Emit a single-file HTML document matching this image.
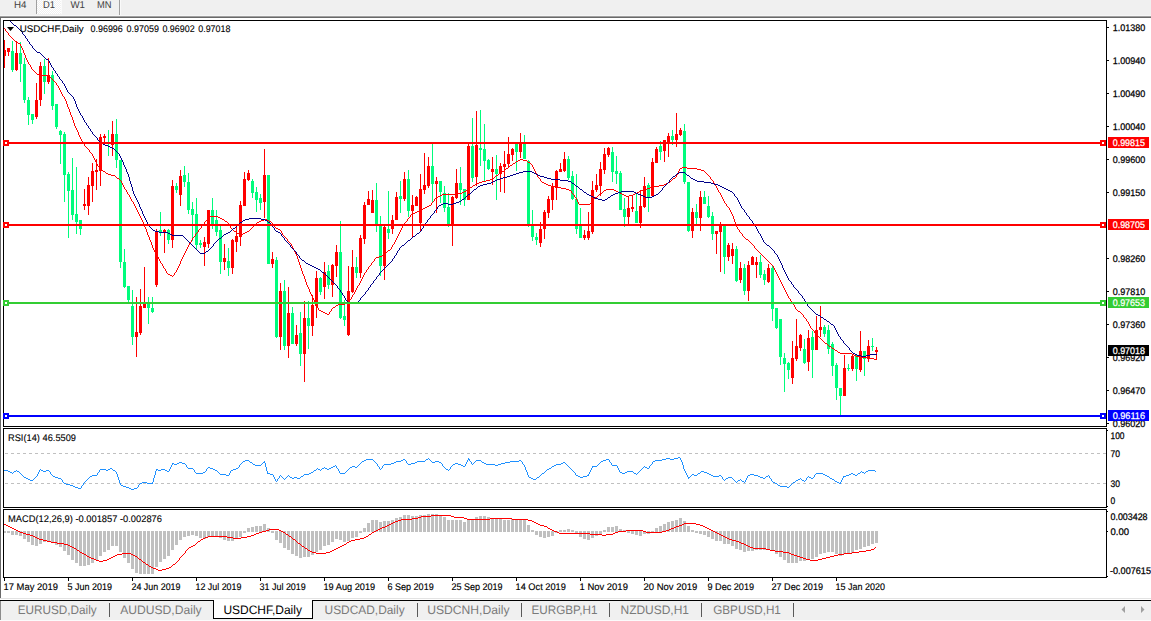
<!DOCTYPE html><html><head><meta charset="utf-8"><title>USDCHF,Daily</title><style>html,body{margin:0;padding:0;background:#fff;overflow:hidden}svg{display:block}</style></head><body><svg width="1151" height="621" viewBox="0 0 1151 621" font-family="Liberation Sans, sans-serif" shape-rendering="crispEdges" text-rendering="geometricPrecision">
<defs><pattern id="chk" width="2" height="2" patternUnits="userSpaceOnUse"><rect width="2" height="2" fill="#f0f0f0"/><rect width="1" height="1" fill="#fff"/><rect x="1" y="1" width="1" height="1" fill="#fff"/></pattern><clipPath id="cm"><rect x="4" y="21" width="1102" height="405"/></clipPath><clipPath id="cr"><rect x="4" y="429" width="1102" height="78"/></clipPath><clipPath id="cd"><rect x="4" y="510" width="1102" height="67"/></clipPath></defs>
<rect x="0" y="0" width="1151" height="621" fill="#fff"/>
<rect x="0" y="0" width="1151" height="15" fill="#f0f0f0"/>
<rect x="37" y="0" width="24" height="14" fill="url(#chk)"/>
<rect x="61" y="0" width="1" height="14" fill="#fafafa"/>
<rect x="36" y="0" width="1" height="14" fill="#a0a0a0"/>
<rect x="119" y="0" width="1" height="16" fill="#a0a0a0"/>
<rect x="120" y="0" width="1" height="15" fill="#fafafa"/>
<rect x="0" y="15" width="1151" height="1" fill="#f6f6f6"/>
<rect x="0" y="16" width="1151" height="1" fill="#a0a0a0"/>
<rect x="0" y="17" width="1151" height="1" fill="#696969"/>
<rect x="0" y="17" width="1" height="581" fill="#696969"/>
<text x="14" y="8" font-size="10" fill="#404040" stroke="#404040" stroke-width="0" textLength="12.5" lengthAdjust="spacingAndGlyphs">H4</text>
<text x="43" y="8" font-size="10" fill="#404040" stroke="#404040" stroke-width="0" textLength="12" lengthAdjust="spacingAndGlyphs">D1</text>
<text x="70.5" y="8" font-size="10" fill="#404040" stroke="#404040" stroke-width="0" textLength="14.5" lengthAdjust="spacingAndGlyphs">W1</text>
<text x="97" y="8" font-size="10" fill="#404040" stroke="#404040" stroke-width="0" textLength="14.5" lengthAdjust="spacingAndGlyphs">MN</text>
<rect x="3" y="20" width="1104" height="1" fill="#000"/>
<rect x="3" y="426" width="1104" height="1" fill="#000"/>
<rect x="3" y="20" width="1" height="407" fill="#000"/>
<rect x="1106" y="20" width="1" height="407" fill="#000"/>
<rect x="3" y="428" width="1104" height="1" fill="#000"/>
<rect x="3" y="507" width="1104" height="1" fill="#000"/>
<rect x="3" y="428" width="1" height="80" fill="#000"/>
<rect x="1106" y="428" width="1" height="80" fill="#000"/>
<rect x="3" y="509" width="1104" height="1" fill="#000"/>
<rect x="3" y="577" width="1104" height="1" fill="#000"/>
<rect x="3" y="509" width="1" height="69" fill="#000"/>
<rect x="1106" y="509" width="1" height="69" fill="#000"/>
<g clip-path="url(#cm)">
<rect x="4" y="40" width="1" height="28" fill="#ff0000"/>
<rect x="3" y="50" width="3" height="6" fill="#ff0000"/>
<rect x="8" y="48" width="1" height="8" fill="#ff0000"/>
<rect x="7" y="48" width="3" height="4" fill="#ff0000"/>
<rect x="12" y="41" width="1" height="31" fill="#00fc7c"/>
<rect x="11" y="51" width="3" height="19" fill="#00fc7c"/>
<rect x="16" y="41" width="1" height="30" fill="#ff0000"/>
<rect x="15" y="53" width="3" height="17" fill="#ff0000"/>
<rect x="20" y="42" width="1" height="40" fill="#00fc7c"/>
<rect x="19" y="53" width="3" height="11" fill="#00fc7c"/>
<rect x="24" y="58" width="1" height="45" fill="#00fc7c"/>
<rect x="23" y="64" width="3" height="36" fill="#00fc7c"/>
<rect x="28" y="97" width="1" height="28" fill="#00fc7c"/>
<rect x="27" y="100" width="3" height="15" fill="#00fc7c"/>
<rect x="32" y="114" width="1" height="10" fill="#00fc7c"/>
<rect x="31" y="114" width="3" height="6" fill="#00fc7c"/>
<rect x="36" y="83" width="1" height="36" fill="#ff0000"/>
<rect x="35" y="100" width="3" height="17" fill="#ff0000"/>
<rect x="40" y="62" width="1" height="44" fill="#ff0000"/>
<rect x="39" y="66" width="3" height="34" fill="#ff0000"/>
<rect x="44" y="59" width="1" height="35" fill="#00fc7c"/>
<rect x="43" y="66" width="3" height="16" fill="#00fc7c"/>
<rect x="48" y="58" width="1" height="26" fill="#ff0000"/>
<rect x="47" y="75" width="3" height="7" fill="#ff0000"/>
<rect x="52" y="71" width="1" height="39" fill="#00fc7c"/>
<rect x="51" y="75" width="3" height="31" fill="#00fc7c"/>
<rect x="56" y="104" width="1" height="25" fill="#00fc7c"/>
<rect x="55" y="104" width="3" height="23" fill="#00fc7c"/>
<rect x="60" y="130" width="1" height="34" fill="#00fc7c"/>
<rect x="59" y="131" width="3" height="4" fill="#00fc7c"/>
<rect x="64" y="132" width="1" height="70" fill="#00fc7c"/>
<rect x="63" y="134" width="3" height="41" fill="#00fc7c"/>
<rect x="68" y="172" width="1" height="66" fill="#00fc7c"/>
<rect x="67" y="174" width="3" height="17" fill="#00fc7c"/>
<rect x="72" y="158" width="1" height="62" fill="#00fc7c"/>
<rect x="71" y="190" width="3" height="25" fill="#00fc7c"/>
<rect x="76" y="167" width="1" height="67" fill="#00fc7c"/>
<rect x="75" y="214" width="3" height="8" fill="#00fc7c"/>
<rect x="80" y="220" width="1" height="15" fill="#00fc7c"/>
<rect x="79" y="220" width="3" height="9" fill="#00fc7c"/>
<rect x="84" y="189" width="1" height="21" fill="#ff0000"/>
<rect x="83" y="204" width="3" height="2" fill="#ff0000"/>
<rect x="88" y="177" width="1" height="38" fill="#ff0000"/>
<rect x="87" y="185" width="3" height="21" fill="#ff0000"/>
<rect x="92" y="163" width="1" height="39" fill="#ff0000"/>
<rect x="91" y="171" width="3" height="15" fill="#ff0000"/>
<rect x="96" y="159" width="1" height="31" fill="#ff0000"/>
<rect x="95" y="170" width="3" height="2" fill="#ff0000"/>
<rect x="100" y="134" width="1" height="52" fill="#ff0000"/>
<rect x="99" y="137" width="3" height="34" fill="#ff0000"/>
<rect x="104" y="134" width="1" height="8" fill="#ff0000"/>
<rect x="103" y="136" width="3" height="2" fill="#ff0000"/>
<rect x="108" y="130" width="1" height="26" fill="#00fc7c"/>
<rect x="107" y="142" width="3" height="1" fill="#00fc7c"/>
<rect x="112" y="121" width="1" height="35" fill="#ff0000"/>
<rect x="111" y="134" width="3" height="11" fill="#ff0000"/>
<rect x="116" y="119" width="1" height="49" fill="#00fc7c"/>
<rect x="115" y="134" width="3" height="26" fill="#00fc7c"/>
<rect x="120" y="160" width="1" height="108" fill="#00fc7c"/>
<rect x="119" y="160" width="3" height="102" fill="#00fc7c"/>
<rect x="124" y="249" width="1" height="39" fill="#00fc7c"/>
<rect x="123" y="262" width="3" height="25" fill="#00fc7c"/>
<rect x="128" y="286" width="1" height="16" fill="#00fc7c"/>
<rect x="127" y="286" width="3" height="14" fill="#00fc7c"/>
<rect x="132" y="290" width="1" height="55" fill="#00fc7c"/>
<rect x="131" y="306" width="3" height="31" fill="#00fc7c"/>
<rect x="136" y="297" width="1" height="60" fill="#ff0000"/>
<rect x="135" y="332" width="3" height="5" fill="#ff0000"/>
<rect x="140" y="289" width="1" height="46" fill="#ff0000"/>
<rect x="139" y="306" width="3" height="27" fill="#ff0000"/>
<rect x="144" y="267" width="1" height="41" fill="#ff0000"/>
<rect x="143" y="304" width="3" height="4" fill="#ff0000"/>
<rect x="148" y="297" width="1" height="27" fill="#00fc7c"/>
<rect x="147" y="304" width="3" height="4" fill="#00fc7c"/>
<rect x="152" y="297" width="1" height="16" fill="#00fc7c"/>
<rect x="151" y="308" width="3" height="4" fill="#00fc7c"/>
<rect x="156" y="229" width="1" height="58" fill="#ff0000"/>
<rect x="155" y="231" width="3" height="54" fill="#ff0000"/>
<rect x="160" y="212" width="1" height="24" fill="#00fc7c"/>
<rect x="159" y="230" width="3" height="3" fill="#00fc7c"/>
<rect x="164" y="229" width="1" height="24" fill="#ff0000"/>
<rect x="163" y="230" width="3" height="3" fill="#ff0000"/>
<rect x="168" y="229" width="1" height="15" fill="#00fc7c"/>
<rect x="167" y="230" width="3" height="10" fill="#00fc7c"/>
<rect x="172" y="180" width="1" height="68" fill="#ff0000"/>
<rect x="171" y="186" width="3" height="54" fill="#ff0000"/>
<rect x="176" y="183" width="1" height="10" fill="#00fc7c"/>
<rect x="175" y="186" width="3" height="4" fill="#00fc7c"/>
<rect x="180" y="170" width="1" height="36" fill="#ff0000"/>
<rect x="179" y="176" width="3" height="19" fill="#ff0000"/>
<rect x="184" y="166" width="1" height="21" fill="#00fc7c"/>
<rect x="183" y="175" width="3" height="7" fill="#00fc7c"/>
<rect x="188" y="173" width="1" height="41" fill="#00fc7c"/>
<rect x="187" y="182" width="3" height="28" fill="#00fc7c"/>
<rect x="192" y="202" width="1" height="39" fill="#00fc7c"/>
<rect x="191" y="209" width="3" height="6" fill="#00fc7c"/>
<rect x="196" y="198" width="1" height="52" fill="#00fc7c"/>
<rect x="195" y="214" width="3" height="31" fill="#00fc7c"/>
<rect x="200" y="240" width="1" height="8" fill="#00fc7c"/>
<rect x="199" y="243" width="3" height="2" fill="#00fc7c"/>
<rect x="204" y="237" width="1" height="29" fill="#ff0000"/>
<rect x="203" y="242" width="3" height="5" fill="#ff0000"/>
<rect x="208" y="210" width="1" height="38" fill="#ff0000"/>
<rect x="207" y="210" width="3" height="34" fill="#ff0000"/>
<rect x="212" y="198" width="1" height="31" fill="#00fc7c"/>
<rect x="211" y="210" width="3" height="14" fill="#00fc7c"/>
<rect x="216" y="210" width="1" height="26" fill="#00fc7c"/>
<rect x="215" y="220" width="3" height="12" fill="#00fc7c"/>
<rect x="220" y="224" width="1" height="50" fill="#00fc7c"/>
<rect x="219" y="230" width="3" height="32" fill="#00fc7c"/>
<rect x="224" y="244" width="1" height="26" fill="#ff0000"/>
<rect x="223" y="258" width="3" height="4" fill="#ff0000"/>
<rect x="228" y="248" width="1" height="28" fill="#00fc7c"/>
<rect x="227" y="261" width="3" height="7" fill="#00fc7c"/>
<rect x="232" y="239" width="1" height="35" fill="#ff0000"/>
<rect x="231" y="240" width="3" height="28" fill="#ff0000"/>
<rect x="236" y="224" width="1" height="28" fill="#ff0000"/>
<rect x="235" y="236" width="3" height="6" fill="#ff0000"/>
<rect x="240" y="201" width="1" height="45" fill="#ff0000"/>
<rect x="239" y="205" width="3" height="32" fill="#ff0000"/>
<rect x="244" y="172" width="1" height="34" fill="#ff0000"/>
<rect x="243" y="179" width="3" height="27" fill="#ff0000"/>
<rect x="248" y="170" width="1" height="11" fill="#ff0000"/>
<rect x="247" y="173" width="3" height="7" fill="#ff0000"/>
<rect x="252" y="179" width="1" height="19" fill="#00fc7c"/>
<rect x="251" y="181" width="3" height="12" fill="#00fc7c"/>
<rect x="256" y="187" width="1" height="25" fill="#00fc7c"/>
<rect x="255" y="192" width="3" height="8" fill="#00fc7c"/>
<rect x="260" y="194" width="1" height="16" fill="#00fc7c"/>
<rect x="259" y="198" width="3" height="5" fill="#00fc7c"/>
<rect x="264" y="149" width="1" height="69" fill="#ff0000"/>
<rect x="263" y="175" width="3" height="27" fill="#ff0000"/>
<rect x="268" y="175" width="1" height="89" fill="#00fc7c"/>
<rect x="267" y="175" width="3" height="89" fill="#00fc7c"/>
<rect x="272" y="252" width="1" height="16" fill="#ff0000"/>
<rect x="271" y="259" width="3" height="5" fill="#ff0000"/>
<rect x="276" y="257" width="1" height="81" fill="#00fc7c"/>
<rect x="275" y="260" width="3" height="77" fill="#00fc7c"/>
<rect x="280" y="283" width="1" height="67" fill="#ff0000"/>
<rect x="279" y="291" width="3" height="46" fill="#ff0000"/>
<rect x="284" y="280" width="1" height="70" fill="#00fc7c"/>
<rect x="283" y="291" width="3" height="55" fill="#00fc7c"/>
<rect x="288" y="287" width="1" height="71" fill="#ff0000"/>
<rect x="287" y="313" width="3" height="33" fill="#ff0000"/>
<rect x="292" y="307" width="1" height="37" fill="#00fc7c"/>
<rect x="291" y="313" width="3" height="31" fill="#00fc7c"/>
<rect x="296" y="325" width="1" height="21" fill="#ff0000"/>
<rect x="295" y="335" width="3" height="9" fill="#ff0000"/>
<rect x="300" y="312" width="1" height="54" fill="#00fc7c"/>
<rect x="299" y="333" width="3" height="21" fill="#00fc7c"/>
<rect x="304" y="301" width="1" height="81" fill="#ff0000"/>
<rect x="303" y="318" width="3" height="36" fill="#ff0000"/>
<rect x="308" y="301" width="1" height="48" fill="#00fc7c"/>
<rect x="307" y="318" width="3" height="8" fill="#00fc7c"/>
<rect x="312" y="295" width="1" height="41" fill="#ff0000"/>
<rect x="311" y="305" width="3" height="21" fill="#ff0000"/>
<rect x="316" y="271" width="1" height="47" fill="#ff0000"/>
<rect x="315" y="278" width="3" height="28" fill="#ff0000"/>
<rect x="320" y="277" width="1" height="18" fill="#00fc7c"/>
<rect x="319" y="278" width="3" height="14" fill="#00fc7c"/>
<rect x="324" y="262" width="1" height="37" fill="#ff0000"/>
<rect x="323" y="272" width="3" height="15" fill="#ff0000"/>
<rect x="328" y="265" width="1" height="24" fill="#00fc7c"/>
<rect x="327" y="271" width="3" height="14" fill="#00fc7c"/>
<rect x="332" y="264" width="1" height="33" fill="#ff0000"/>
<rect x="331" y="265" width="3" height="20" fill="#ff0000"/>
<rect x="336" y="245" width="1" height="32" fill="#ff0000"/>
<rect x="335" y="252" width="3" height="14" fill="#ff0000"/>
<rect x="340" y="221" width="1" height="98" fill="#00fc7c"/>
<rect x="339" y="252" width="3" height="66" fill="#00fc7c"/>
<rect x="344" y="300" width="1" height="26" fill="#00fc7c"/>
<rect x="343" y="316" width="3" height="4" fill="#00fc7c"/>
<rect x="348" y="266" width="1" height="70" fill="#ff0000"/>
<rect x="347" y="291" width="3" height="44" fill="#ff0000"/>
<rect x="352" y="250" width="1" height="43" fill="#ff0000"/>
<rect x="351" y="267" width="3" height="25" fill="#ff0000"/>
<rect x="356" y="257" width="1" height="21" fill="#00fc7c"/>
<rect x="355" y="267" width="3" height="6" fill="#00fc7c"/>
<rect x="360" y="235" width="1" height="43" fill="#ff0000"/>
<rect x="359" y="238" width="3" height="35" fill="#ff0000"/>
<rect x="364" y="202" width="1" height="42" fill="#ff0000"/>
<rect x="363" y="205" width="3" height="34" fill="#ff0000"/>
<rect x="368" y="191" width="1" height="14" fill="#ff0000"/>
<rect x="367" y="199" width="3" height="6" fill="#ff0000"/>
<rect x="372" y="190" width="1" height="23" fill="#ff0000"/>
<rect x="371" y="200" width="3" height="13" fill="#ff0000"/>
<rect x="376" y="183" width="1" height="49" fill="#00fc7c"/>
<rect x="375" y="200" width="3" height="24" fill="#00fc7c"/>
<rect x="380" y="216" width="1" height="60" fill="#00fc7c"/>
<rect x="379" y="225" width="3" height="41" fill="#00fc7c"/>
<rect x="384" y="224" width="1" height="56" fill="#ff0000"/>
<rect x="383" y="227" width="3" height="39" fill="#ff0000"/>
<rect x="388" y="191" width="1" height="48" fill="#00fc7c"/>
<rect x="387" y="229" width="3" height="4" fill="#00fc7c"/>
<rect x="392" y="215" width="1" height="19" fill="#ff0000"/>
<rect x="391" y="220" width="3" height="9" fill="#ff0000"/>
<rect x="396" y="192" width="1" height="28" fill="#ff0000"/>
<rect x="395" y="197" width="3" height="23" fill="#ff0000"/>
<rect x="400" y="181" width="1" height="32" fill="#00fc7c"/>
<rect x="399" y="196" width="3" height="3" fill="#00fc7c"/>
<rect x="404" y="172" width="1" height="29" fill="#ff0000"/>
<rect x="403" y="179" width="3" height="20" fill="#ff0000"/>
<rect x="408" y="170" width="1" height="47" fill="#00fc7c"/>
<rect x="407" y="179" width="3" height="32" fill="#00fc7c"/>
<rect x="412" y="195" width="1" height="42" fill="#ff0000"/>
<rect x="411" y="205" width="3" height="6" fill="#ff0000"/>
<rect x="416" y="196" width="1" height="10" fill="#ff0000"/>
<rect x="415" y="197" width="3" height="9" fill="#ff0000"/>
<rect x="420" y="174" width="1" height="57" fill="#ff0000"/>
<rect x="419" y="189" width="3" height="34" fill="#ff0000"/>
<rect x="424" y="153" width="1" height="41" fill="#ff0000"/>
<rect x="423" y="185" width="3" height="5" fill="#ff0000"/>
<rect x="428" y="157" width="1" height="31" fill="#ff0000"/>
<rect x="427" y="166" width="3" height="20" fill="#ff0000"/>
<rect x="432" y="144" width="1" height="59" fill="#00fc7c"/>
<rect x="431" y="166" width="3" height="18" fill="#00fc7c"/>
<rect x="436" y="177" width="1" height="36" fill="#ff0000"/>
<rect x="435" y="181" width="3" height="3" fill="#ff0000"/>
<rect x="440" y="181" width="1" height="22" fill="#00fc7c"/>
<rect x="439" y="181" width="3" height="11" fill="#00fc7c"/>
<rect x="444" y="186" width="1" height="26" fill="#00fc7c"/>
<rect x="443" y="193" width="3" height="15" fill="#00fc7c"/>
<rect x="448" y="193" width="1" height="34" fill="#00fc7c"/>
<rect x="447" y="207" width="3" height="17" fill="#00fc7c"/>
<rect x="452" y="196" width="1" height="50" fill="#ff0000"/>
<rect x="451" y="197" width="3" height="27" fill="#ff0000"/>
<rect x="456" y="169" width="1" height="30" fill="#ff0000"/>
<rect x="455" y="183" width="3" height="15" fill="#ff0000"/>
<rect x="460" y="167" width="1" height="38" fill="#00fc7c"/>
<rect x="459" y="183" width="3" height="7" fill="#00fc7c"/>
<rect x="464" y="189" width="1" height="17" fill="#00fc7c"/>
<rect x="463" y="189" width="3" height="11" fill="#00fc7c"/>
<rect x="468" y="144" width="1" height="56" fill="#ff0000"/>
<rect x="467" y="146" width="3" height="54" fill="#ff0000"/>
<rect x="472" y="118" width="1" height="64" fill="#00fc7c"/>
<rect x="471" y="146" width="3" height="32" fill="#00fc7c"/>
<rect x="476" y="111" width="1" height="75" fill="#ff0000"/>
<rect x="475" y="145" width="3" height="32" fill="#ff0000"/>
<rect x="480" y="110" width="1" height="56" fill="#00fc7c"/>
<rect x="479" y="148" width="3" height="2" fill="#00fc7c"/>
<rect x="484" y="124" width="1" height="58" fill="#00fc7c"/>
<rect x="483" y="149" width="3" height="12" fill="#00fc7c"/>
<rect x="488" y="159" width="1" height="11" fill="#00fc7c"/>
<rect x="487" y="160" width="3" height="9" fill="#00fc7c"/>
<rect x="492" y="157" width="1" height="28" fill="#ff0000"/>
<rect x="491" y="169" width="3" height="3" fill="#ff0000"/>
<rect x="496" y="155" width="1" height="45" fill="#00fc7c"/>
<rect x="495" y="169" width="3" height="5" fill="#00fc7c"/>
<rect x="500" y="163" width="1" height="29" fill="#ff0000"/>
<rect x="499" y="166" width="3" height="8" fill="#ff0000"/>
<rect x="504" y="151" width="1" height="42" fill="#ff0000"/>
<rect x="503" y="164" width="3" height="3" fill="#ff0000"/>
<rect x="508" y="137" width="1" height="30" fill="#ff0000"/>
<rect x="507" y="154" width="3" height="10" fill="#ff0000"/>
<rect x="512" y="148" width="1" height="13" fill="#ff0000"/>
<rect x="511" y="149" width="3" height="6" fill="#ff0000"/>
<rect x="516" y="144" width="1" height="27" fill="#00fc7c"/>
<rect x="515" y="144" width="3" height="8" fill="#00fc7c"/>
<rect x="520" y="133" width="1" height="25" fill="#ff0000"/>
<rect x="519" y="144" width="3" height="8" fill="#ff0000"/>
<rect x="524" y="135" width="1" height="24" fill="#00fc7c"/>
<rect x="523" y="144" width="3" height="15" fill="#00fc7c"/>
<rect x="528" y="160" width="1" height="67" fill="#00fc7c"/>
<rect x="527" y="161" width="3" height="65" fill="#00fc7c"/>
<rect x="532" y="210" width="1" height="31" fill="#00fc7c"/>
<rect x="531" y="225" width="3" height="12" fill="#00fc7c"/>
<rect x="536" y="233" width="1" height="12" fill="#00fc7c"/>
<rect x="535" y="237" width="3" height="3" fill="#00fc7c"/>
<rect x="540" y="222" width="1" height="25" fill="#ff0000"/>
<rect x="539" y="229" width="3" height="14" fill="#ff0000"/>
<rect x="544" y="210" width="1" height="29" fill="#ff0000"/>
<rect x="543" y="212" width="3" height="17" fill="#ff0000"/>
<rect x="548" y="196" width="1" height="22" fill="#ff0000"/>
<rect x="547" y="199" width="3" height="14" fill="#ff0000"/>
<rect x="552" y="183" width="1" height="27" fill="#ff0000"/>
<rect x="551" y="187" width="3" height="13" fill="#ff0000"/>
<rect x="556" y="170" width="1" height="30" fill="#ff0000"/>
<rect x="555" y="171" width="3" height="17" fill="#ff0000"/>
<rect x="560" y="163" width="1" height="9" fill="#ff0000"/>
<rect x="559" y="169" width="3" height="3" fill="#ff0000"/>
<rect x="564" y="152" width="1" height="20" fill="#ff0000"/>
<rect x="563" y="159" width="3" height="12" fill="#ff0000"/>
<rect x="568" y="156" width="1" height="24" fill="#00fc7c"/>
<rect x="567" y="159" width="3" height="19" fill="#00fc7c"/>
<rect x="572" y="171" width="1" height="29" fill="#00fc7c"/>
<rect x="571" y="176" width="3" height="23" fill="#00fc7c"/>
<rect x="576" y="174" width="1" height="60" fill="#00fc7c"/>
<rect x="575" y="199" width="3" height="30" fill="#00fc7c"/>
<rect x="580" y="208" width="1" height="30" fill="#00fc7c"/>
<rect x="579" y="226" width="3" height="12" fill="#00fc7c"/>
<rect x="584" y="230" width="1" height="10" fill="#ff0000"/>
<rect x="583" y="235" width="3" height="3" fill="#ff0000"/>
<rect x="588" y="212" width="1" height="28" fill="#ff0000"/>
<rect x="587" y="231" width="3" height="7" fill="#ff0000"/>
<rect x="592" y="181" width="1" height="53" fill="#ff0000"/>
<rect x="591" y="190" width="3" height="42" fill="#ff0000"/>
<rect x="596" y="174" width="1" height="18" fill="#ff0000"/>
<rect x="595" y="185" width="3" height="5" fill="#ff0000"/>
<rect x="600" y="162" width="1" height="34" fill="#ff0000"/>
<rect x="599" y="169" width="3" height="17" fill="#ff0000"/>
<rect x="604" y="148" width="1" height="26" fill="#ff0000"/>
<rect x="603" y="154" width="3" height="16" fill="#ff0000"/>
<rect x="608" y="147" width="1" height="10" fill="#ff0000"/>
<rect x="607" y="148" width="3" height="7" fill="#ff0000"/>
<rect x="612" y="147" width="1" height="35" fill="#00fc7c"/>
<rect x="611" y="152" width="3" height="20" fill="#00fc7c"/>
<rect x="616" y="156" width="1" height="28" fill="#00fc7c"/>
<rect x="615" y="171" width="3" height="3" fill="#00fc7c"/>
<rect x="620" y="171" width="1" height="39" fill="#00fc7c"/>
<rect x="619" y="173" width="3" height="37" fill="#00fc7c"/>
<rect x="624" y="198" width="1" height="29" fill="#00fc7c"/>
<rect x="623" y="209" width="3" height="8" fill="#00fc7c"/>
<rect x="628" y="197" width="1" height="28" fill="#ff0000"/>
<rect x="627" y="208" width="3" height="9" fill="#ff0000"/>
<rect x="632" y="196" width="1" height="16" fill="#ff0000"/>
<rect x="631" y="207" width="3" height="2" fill="#ff0000"/>
<rect x="636" y="194" width="1" height="29" fill="#00fc7c"/>
<rect x="635" y="211" width="3" height="12" fill="#00fc7c"/>
<rect x="640" y="190" width="1" height="38" fill="#ff0000"/>
<rect x="639" y="206" width="3" height="17" fill="#ff0000"/>
<rect x="644" y="177" width="1" height="31" fill="#ff0000"/>
<rect x="643" y="186" width="3" height="21" fill="#ff0000"/>
<rect x="648" y="183" width="1" height="29" fill="#00fc7c"/>
<rect x="647" y="185" width="3" height="12" fill="#00fc7c"/>
<rect x="652" y="158" width="1" height="38" fill="#ff0000"/>
<rect x="651" y="162" width="3" height="34" fill="#ff0000"/>
<rect x="656" y="147" width="1" height="16" fill="#ff0000"/>
<rect x="655" y="149" width="3" height="14" fill="#ff0000"/>
<rect x="660" y="141" width="1" height="19" fill="#00fc7c"/>
<rect x="659" y="146" width="3" height="6" fill="#00fc7c"/>
<rect x="664" y="140" width="1" height="22" fill="#ff0000"/>
<rect x="663" y="140" width="3" height="11" fill="#ff0000"/>
<rect x="668" y="133" width="1" height="24" fill="#ff0000"/>
<rect x="667" y="136" width="3" height="7" fill="#ff0000"/>
<rect x="672" y="130" width="1" height="15" fill="#00fc7c"/>
<rect x="671" y="136" width="3" height="4" fill="#00fc7c"/>
<rect x="676" y="113" width="1" height="34" fill="#ff0000"/>
<rect x="675" y="134" width="3" height="6" fill="#ff0000"/>
<rect x="680" y="128" width="1" height="8" fill="#ff0000"/>
<rect x="679" y="130" width="3" height="5" fill="#ff0000"/>
<rect x="684" y="124" width="1" height="60" fill="#00fc7c"/>
<rect x="683" y="131" width="3" height="51" fill="#00fc7c"/>
<rect x="688" y="182" width="1" height="50" fill="#00fc7c"/>
<rect x="687" y="182" width="3" height="49" fill="#00fc7c"/>
<rect x="692" y="208" width="1" height="30" fill="#ff0000"/>
<rect x="691" y="212" width="3" height="19" fill="#ff0000"/>
<rect x="696" y="204" width="1" height="20" fill="#00fc7c"/>
<rect x="695" y="212" width="3" height="6" fill="#00fc7c"/>
<rect x="700" y="191" width="1" height="40" fill="#ff0000"/>
<rect x="699" y="197" width="3" height="21" fill="#ff0000"/>
<rect x="704" y="191" width="1" height="13" fill="#00fc7c"/>
<rect x="703" y="197" width="3" height="7" fill="#00fc7c"/>
<rect x="708" y="196" width="1" height="22" fill="#00fc7c"/>
<rect x="707" y="206" width="3" height="11" fill="#00fc7c"/>
<rect x="712" y="212" width="1" height="28" fill="#00fc7c"/>
<rect x="711" y="216" width="3" height="18" fill="#00fc7c"/>
<rect x="716" y="231" width="1" height="23" fill="#ff0000"/>
<rect x="715" y="231" width="3" height="3" fill="#ff0000"/>
<rect x="720" y="222" width="1" height="50" fill="#ff0000"/>
<rect x="719" y="226" width="3" height="6" fill="#ff0000"/>
<rect x="724" y="226" width="1" height="48" fill="#00fc7c"/>
<rect x="723" y="226" width="3" height="31" fill="#00fc7c"/>
<rect x="728" y="243" width="1" height="18" fill="#ff0000"/>
<rect x="727" y="245" width="3" height="12" fill="#ff0000"/>
<rect x="732" y="243" width="1" height="21" fill="#ff0000"/>
<rect x="731" y="249" width="3" height="7" fill="#ff0000"/>
<rect x="736" y="246" width="1" height="36" fill="#00fc7c"/>
<rect x="735" y="249" width="3" height="32" fill="#00fc7c"/>
<rect x="740" y="262" width="1" height="21" fill="#ff0000"/>
<rect x="739" y="268" width="3" height="12" fill="#ff0000"/>
<rect x="744" y="264" width="1" height="31" fill="#00fc7c"/>
<rect x="743" y="268" width="3" height="23" fill="#00fc7c"/>
<rect x="748" y="261" width="1" height="40" fill="#ff0000"/>
<rect x="747" y="265" width="3" height="26" fill="#ff0000"/>
<rect x="752" y="256" width="1" height="9" fill="#ff0000"/>
<rect x="751" y="257" width="3" height="8" fill="#ff0000"/>
<rect x="756" y="257" width="1" height="21" fill="#ff0000"/>
<rect x="755" y="262" width="3" height="3" fill="#ff0000"/>
<rect x="760" y="255" width="1" height="23" fill="#00fc7c"/>
<rect x="759" y="262" width="3" height="13" fill="#00fc7c"/>
<rect x="764" y="270" width="1" height="15" fill="#00fc7c"/>
<rect x="763" y="274" width="3" height="6" fill="#00fc7c"/>
<rect x="768" y="264" width="1" height="19" fill="#ff0000"/>
<rect x="767" y="268" width="3" height="14" fill="#ff0000"/>
<rect x="772" y="265" width="1" height="56" fill="#00fc7c"/>
<rect x="771" y="268" width="3" height="41" fill="#00fc7c"/>
<rect x="776" y="308" width="1" height="21" fill="#00fc7c"/>
<rect x="775" y="308" width="3" height="20" fill="#00fc7c"/>
<rect x="780" y="319" width="1" height="46" fill="#00fc7c"/>
<rect x="779" y="319" width="3" height="38" fill="#00fc7c"/>
<rect x="784" y="353" width="1" height="39" fill="#00fc7c"/>
<rect x="783" y="358" width="3" height="6" fill="#00fc7c"/>
<rect x="788" y="362" width="1" height="17" fill="#00fc7c"/>
<rect x="787" y="363" width="3" height="7" fill="#00fc7c"/>
<rect x="792" y="341" width="1" height="43" fill="#ff0000"/>
<rect x="791" y="358" width="3" height="20" fill="#ff0000"/>
<rect x="796" y="319" width="1" height="42" fill="#ff0000"/>
<rect x="795" y="346" width="3" height="13" fill="#ff0000"/>
<rect x="800" y="334" width="1" height="17" fill="#ff0000"/>
<rect x="799" y="335" width="3" height="13" fill="#ff0000"/>
<rect x="804" y="339" width="1" height="25" fill="#00fc7c"/>
<rect x="803" y="349" width="3" height="14" fill="#00fc7c"/>
<rect x="808" y="330" width="1" height="41" fill="#ff0000"/>
<rect x="807" y="338" width="3" height="24" fill="#ff0000"/>
<rect x="812" y="331" width="1" height="47" fill="#00fc7c"/>
<rect x="811" y="337" width="3" height="13" fill="#00fc7c"/>
<rect x="816" y="316" width="1" height="34" fill="#ff0000"/>
<rect x="815" y="330" width="3" height="20" fill="#ff0000"/>
<rect x="820" y="306" width="1" height="31" fill="#ff0000"/>
<rect x="819" y="327" width="3" height="3" fill="#ff0000"/>
<rect x="824" y="325" width="1" height="12" fill="#00fc7c"/>
<rect x="823" y="327" width="3" height="7" fill="#00fc7c"/>
<rect x="828" y="325" width="1" height="29" fill="#00fc7c"/>
<rect x="827" y="330" width="3" height="19" fill="#00fc7c"/>
<rect x="832" y="342" width="1" height="34" fill="#00fc7c"/>
<rect x="831" y="344" width="3" height="22" fill="#00fc7c"/>
<rect x="836" y="363" width="1" height="37" fill="#00fc7c"/>
<rect x="835" y="365" width="3" height="23" fill="#00fc7c"/>
<rect x="840" y="388" width="1" height="27" fill="#00fc7c"/>
<rect x="839" y="388" width="3" height="8" fill="#00fc7c"/>
<rect x="844" y="355" width="1" height="41" fill="#ff0000"/>
<rect x="843" y="368" width="3" height="28" fill="#ff0000"/>
<rect x="848" y="364" width="1" height="7" fill="#00fc7c"/>
<rect x="847" y="368" width="3" height="1" fill="#00fc7c"/>
<rect x="852" y="354" width="1" height="17" fill="#ff0000"/>
<rect x="851" y="356" width="3" height="13" fill="#ff0000"/>
<rect x="856" y="355" width="1" height="26" fill="#00fc7c"/>
<rect x="855" y="356" width="3" height="13" fill="#00fc7c"/>
<rect x="860" y="331" width="1" height="41" fill="#ff0000"/>
<rect x="859" y="351" width="3" height="19" fill="#ff0000"/>
<rect x="864" y="351" width="1" height="25" fill="#00fc7c"/>
<rect x="863" y="351" width="3" height="8" fill="#00fc7c"/>
<rect x="868" y="340" width="1" height="22" fill="#ff0000"/>
<rect x="867" y="346" width="3" height="13" fill="#ff0000"/>
<rect x="872" y="338" width="1" height="13" fill="#00fc7c"/>
<rect x="871" y="346" width="3" height="1" fill="#00fc7c"/>
<rect x="876" y="347" width="1" height="12" fill="#ff0000"/>
<rect x="875" y="350" width="3" height="2" fill="#ff0000"/>
<path d="M15 41h2v1h-2zM18 43h2v1h-2zM37 74h2v1h-2zM39 75h9v1h-9zM48 76h2v1h-2zM520 159h3v1h-3zM518 160h2v1h-2zM523 160h4v1h-4zM516 161h2v1h-2zM528 162h2v1h-2zM513 163h2v1h-2zM510 165h2v1h-2zM682 167h5v1h-5zM506 168h2v1h-2zM680 168h2v1h-2zM687 168h10v1h-10zM697 169h4v1h-4zM701 170h3v1h-3zM103 171h2v1h-2zM502 171h2v1h-2zM106 173h2v1h-2zM499 173h2v1h-2zM108 174h3v1h-3zM111 175h4v1h-4zM496 175h2v1h-2zM117 178h2v1h-2zM492 178h2v1h-2zM673 178h2v1h-2zM490 179h2v1h-2zM486 180h4v1h-4zM482 181h4v1h-4zM479 182h3v1h-3zM542 182h2v1h-2zM668 182h2v1h-2zM477 183h2v1h-2zM544 183h2v1h-2zM666 183h2v1h-2zM475 184h2v1h-2zM546 184h2v1h-2zM664 184h2v1h-2zM473 185h2v1h-2zM548 185h3v1h-3zM659 185h5v1h-5zM551 186h4v1h-4zM654 186h5v1h-5zM470 187h2v1h-2zM555 187h6v1h-6zM650 187h4v1h-4zM561 188h5v1h-5zM647 188h3v1h-3zM566 189h3v1h-3zM606 189h8v1h-8zM643 189h4v1h-4zM466 190h2v1h-2zM569 190h2v1h-2zM604 190h2v1h-2zM614 190h2v1h-2zM641 190h2v1h-2zM464 191h2v1h-2zM616 191h2v1h-2zM639 191h2v1h-2zM462 192h2v1h-2zM618 192h2v1h-2zM637 192h2v1h-2zM457 193h5v1h-5zM600 193h2v1h-2zM620 193h2v1h-2zM635 193h2v1h-2zM442 194h15v1h-15zM622 194h2v1h-2zM633 194h2v1h-2zM440 195h2v1h-2zM624 195h2v1h-2zM629 195h4v1h-4zM438 196h2v1h-2zM626 196h3v1h-3zM436 197h2v1h-2zM595 197h2v1h-2zM579 204h11v1h-11zM429 205h2v1h-2zM427 206h2v1h-2zM425 207h2v1h-2zM423 208h2v1h-2zM421 209h2v1h-2zM419 210h2v1h-2zM417 211h2v1h-2zM415 212h2v1h-2zM413 213h2v1h-2zM411 214h2v1h-2zM210 216h8v1h-8zM218 217h2v1h-2zM220 218h2v1h-2zM222 219h2v1h-2zM264 219h3v1h-3zM261 220h3v1h-3zM267 220h2v1h-2zM225 221h2v1h-2zM259 221h2v1h-2zM269 221h2v1h-2zM257 222h2v1h-2zM276 228h2v1h-2zM278 229h2v1h-2zM234 231h2v1h-2zM247 231h2v1h-2zM245 232h2v1h-2zM237 233h3v1h-3zM243 233h2v1h-2zM240 234h3v1h-3zM746 239h2v1h-2zM388 250h2v1h-2zM383 254h2v1h-2zM379 256h3v1h-3zM376 257h3v1h-3zM168 274h2v1h-2zM170 275h2v1h-2zM347 302h2v1h-2zM345 303h2v1h-2zM338 304h7v1h-7zM336 305h2v1h-2zM333 307h2v1h-2zM319 310h2v1h-2zM321 311h2v1h-2zM798 311h2v1h-2zM323 312h2v1h-2zM325 313h2v1h-2zM327 314h2v1h-2zM825 343h2v1h-2zM829 346h2v1h-2zM832 348h2v1h-2zM835 350h2v1h-2zM838 352h2v1h-2zM840 353h12v1h-12zM852 354h2v1h-2zM854 355h2v1h-2zM856 356h5v1h-5zM861 357h7v1h-7zM868 358h6v1h-6zM874 359h3v1h-3zM4 28h1v1h-1zM5 29h1v2h-1zM6 31h1v1h-1zM7 32h1v1h-1zM8 33h1v2h-1zM9 35h1v1h-1zM10 36h1v1h-1zM11 37h1v1h-1zM12 38h1v1h-1zM13 39h1v1h-1zM14 40h1v1h-1zM17 42h1v1h-1zM20 44h1v2h-1zM21 46h1v2h-1zM22 48h1v2h-1zM23 50h1v3h-1zM24 53h1v2h-1zM25 55h1v3h-1zM26 58h1v2h-1zM27 60h1v2h-1zM28 62h1v2h-1zM29 64h1v1h-1zM30 65h1v2h-1zM31 67h1v2h-1zM32 69h1v1h-1zM33 70h1v1h-1zM34 71h1v1h-1zM35 72h1v1h-1zM36 73h1v1h-1zM50 77h1v1h-1zM51 78h1v1h-1zM52 79h1v1h-1zM53 80h1v1h-1zM54 81h1v1h-1zM55 82h1v1h-1zM56 83h1v2h-1zM57 85h1v1h-1zM58 86h1v2h-1zM59 88h1v2h-1zM60 90h1v2h-1zM61 92h1v2h-1zM62 94h1v2h-1zM63 96h1v1h-1zM64 97h1v2h-1zM65 99h1v2h-1zM66 101h1v3h-1zM67 104h1v3h-1zM68 107h1v2h-1zM69 109h1v3h-1zM70 112h1v3h-1zM71 115h1v2h-1zM72 117h1v3h-1zM73 120h1v3h-1zM74 123h1v3h-1zM75 126h1v2h-1zM76 128h1v2h-1zM77 130h1v2h-1zM78 132h1v3h-1zM79 135h1v2h-1zM80 137h1v2h-1zM81 139h1v2h-1zM82 141h1v2h-1zM83 143h1v1h-1zM84 144h1v2h-1zM85 146h1v1h-1zM86 147h1v1h-1zM87 148h1v1h-1zM88 149h1v1h-1zM89 150h1v2h-1zM90 152h1v1h-1zM91 153h1v1h-1zM92 154h1v2h-1zM93 156h1v2h-1zM94 158h1v2h-1zM95 160h1v2h-1zM96 162h1v2h-1zM97 164h1v2h-1zM98 166h1v1h-1zM99 167h1v1h-1zM100 168h1v1h-1zM101 169h1v1h-1zM102 170h1v1h-1zM105 172h1v1h-1zM115 176h1v1h-1zM116 177h1v1h-1zM119 179h1v1h-1zM120 180h1v1h-1zM121 181h1v2h-1zM122 183h1v2h-1zM123 185h1v2h-1zM124 187h1v2h-1zM125 189h1v1h-1zM126 190h1v2h-1zM127 192h1v2h-1zM128 194h1v1h-1zM129 195h1v2h-1zM130 197h1v2h-1zM131 199h1v2h-1zM132 201h1v1h-1zM133 202h1v2h-1zM134 204h1v2h-1zM135 206h1v2h-1zM136 208h1v2h-1zM137 210h1v2h-1zM138 212h1v2h-1zM139 214h1v2h-1zM140 216h1v2h-1zM141 218h1v2h-1zM142 220h1v2h-1zM143 222h1v2h-1zM144 224h1v3h-1zM145 227h1v2h-1zM146 229h1v3h-1zM147 232h1v3h-1zM148 235h1v2h-1zM149 237h1v3h-1zM150 240h1v2h-1zM151 242h1v3h-1zM152 245h1v3h-1zM153 248h1v2h-1zM154 250h1v2h-1zM155 252h1v2h-1zM156 254h1v2h-1zM157 256h1v1h-1zM158 257h1v2h-1zM159 259h1v2h-1zM160 261h1v2h-1zM161 263h1v1h-1zM162 264h1v2h-1zM163 266h1v2h-1zM164 268h1v1h-1zM165 269h1v2h-1zM166 271h1v2h-1zM167 273h1v1h-1zM172 276h1v1h-1zM173 275h1v1h-1zM174 273h1v2h-1zM175 272h1v1h-1zM176 270h1v2h-1zM177 268h1v2h-1zM178 266h1v2h-1zM179 264h1v2h-1zM180 261h1v3h-1zM181 259h1v2h-1zM182 257h1v2h-1zM183 255h1v2h-1zM184 253h1v2h-1zM185 251h1v2h-1zM186 249h1v2h-1zM187 247h1v2h-1zM188 245h1v2h-1zM189 243h1v2h-1zM190 242h1v1h-1zM191 240h1v2h-1zM192 238h1v2h-1zM193 237h1v1h-1zM194 236h1v1h-1zM195 234h1v2h-1zM196 233h1v1h-1zM197 232h1v1h-1zM198 230h1v2h-1zM199 229h1v1h-1zM200 228h1v1h-1zM201 226h1v2h-1zM202 225h1v1h-1zM203 224h1v1h-1zM204 222h1v2h-1zM205 221h1v1h-1zM206 220h1v1h-1zM207 219h1v1h-1zM208 218h1v1h-1zM209 217h1v1h-1zM224 220h1v1h-1zM227 222h1v1h-1zM228 223h1v2h-1zM229 225h1v1h-1zM230 226h1v2h-1zM231 228h1v1h-1zM232 229h1v1h-1zM233 230h1v1h-1zM236 232h1v1h-1zM249 230h1v1h-1zM250 229h1v1h-1zM251 228h1v1h-1zM252 227h1v1h-1zM253 226h1v1h-1zM254 225h1v1h-1zM255 224h1v1h-1zM256 223h1v1h-1zM271 222h1v1h-1zM272 223h1v1h-1zM273 224h1v2h-1zM274 226h1v1h-1zM275 227h1v1h-1zM280 230h1v1h-1zM281 231h1v2h-1zM282 233h1v2h-1zM283 235h1v1h-1zM284 236h1v1h-1zM285 237h1v1h-1zM286 238h1v1h-1zM287 239h1v2h-1zM288 241h1v1h-1zM289 242h1v1h-1zM290 243h1v1h-1zM291 244h1v2h-1zM292 246h1v2h-1zM293 248h1v2h-1zM294 250h1v2h-1zM295 252h1v2h-1zM296 254h1v2h-1zM297 256h1v3h-1zM298 259h1v3h-1zM299 262h1v3h-1zM300 265h1v3h-1zM301 268h1v3h-1zM302 271h1v3h-1zM303 274h1v2h-1zM304 276h1v3h-1zM305 279h1v3h-1zM306 282h1v3h-1zM307 285h1v2h-1zM308 287h1v2h-1zM309 289h1v3h-1zM310 292h1v2h-1zM311 294h1v2h-1zM312 296h1v2h-1zM313 298h1v2h-1zM314 300h1v2h-1zM315 302h1v2h-1zM316 304h1v2h-1zM317 306h1v2h-1zM318 308h1v2h-1zM329 312h1v2h-1zM330 311h1v1h-1zM331 309h1v2h-1zM332 308h1v1h-1zM335 306h1v1h-1zM349 300h1v2h-1zM350 299h1v1h-1zM351 297h1v2h-1zM352 295h1v2h-1zM353 294h1v1h-1zM354 292h1v2h-1zM355 290h1v2h-1zM356 288h1v2h-1zM357 286h1v2h-1zM358 285h1v1h-1zM359 283h1v2h-1zM360 281h1v2h-1zM361 279h1v2h-1zM362 277h1v2h-1zM363 275h1v2h-1zM364 273h1v2h-1zM365 272h1v1h-1zM366 270h1v2h-1zM367 269h1v1h-1zM368 267h1v2h-1zM369 266h1v1h-1zM370 265h1v1h-1zM371 263h1v2h-1zM372 262h1v1h-1zM373 261h1v1h-1zM374 259h1v2h-1zM375 258h1v1h-1zM382 255h1v1h-1zM385 253h1v1h-1zM386 252h1v1h-1zM387 251h1v1h-1zM390 249h1v1h-1zM391 247h1v2h-1zM392 245h1v2h-1zM393 244h1v1h-1zM394 242h1v2h-1zM395 240h1v2h-1zM396 238h1v2h-1zM397 236h1v2h-1zM398 234h1v2h-1zM399 232h1v2h-1zM400 230h1v2h-1zM401 228h1v2h-1zM402 226h1v2h-1zM403 225h1v1h-1zM404 223h1v2h-1zM405 222h1v1h-1zM406 221h1v1h-1zM407 219h1v2h-1zM408 218h1v1h-1zM409 217h1v1h-1zM410 215h1v2h-1zM431 203h1v2h-1zM432 202h1v1h-1zM433 201h1v1h-1zM434 199h1v2h-1zM435 198h1v1h-1zM468 189h1v1h-1zM469 188h1v1h-1zM472 186h1v1h-1zM494 177h1v1h-1zM495 176h1v1h-1zM498 174h1v1h-1zM501 172h1v1h-1zM504 170h1v1h-1zM505 169h1v1h-1zM508 167h1v1h-1zM509 166h1v1h-1zM512 164h1v1h-1zM515 162h1v1h-1zM527 161h1v1h-1zM530 163h1v1h-1zM531 164h1v1h-1zM532 165h1v2h-1zM533 167h1v2h-1zM534 169h1v2h-1zM535 171h1v2h-1zM536 173h1v2h-1zM537 175h1v2h-1zM538 177h1v1h-1zM539 178h1v1h-1zM540 179h1v2h-1zM541 181h1v1h-1zM571 191h1v2h-1zM572 193h1v1h-1zM573 194h1v1h-1zM574 195h1v2h-1zM575 197h1v1h-1zM576 198h1v2h-1zM577 200h1v2h-1zM578 202h1v2h-1zM590 203h1v1h-1zM591 201h1v2h-1zM592 200h1v1h-1zM593 199h1v1h-1zM594 198h1v1h-1zM597 196h1v1h-1zM598 195h1v1h-1zM599 194h1v1h-1zM602 192h1v1h-1zM603 191h1v1h-1zM670 181h1v1h-1zM671 180h1v1h-1zM672 179h1v1h-1zM675 177h1v1h-1zM676 175h1v2h-1zM677 173h1v2h-1zM678 171h1v2h-1zM679 169h1v2h-1zM704 171h1v1h-1zM705 172h1v1h-1zM706 173h1v1h-1zM707 174h1v1h-1zM708 175h1v1h-1zM709 176h1v1h-1zM710 177h1v2h-1zM711 179h1v1h-1zM712 180h1v1h-1zM713 181h1v2h-1zM714 183h1v1h-1zM715 184h1v2h-1zM716 186h1v2h-1zM717 188h1v2h-1zM718 190h1v2h-1zM719 192h1v1h-1zM720 193h1v2h-1zM721 195h1v2h-1zM722 197h1v2h-1zM723 199h1v2h-1zM724 201h1v2h-1zM725 203h1v1h-1zM726 204h1v2h-1zM727 206h1v1h-1zM728 207h1v1h-1zM729 208h1v2h-1zM730 210h1v2h-1zM731 212h1v2h-1zM732 214h1v2h-1zM733 216h1v3h-1zM734 219h1v3h-1zM735 222h1v2h-1zM736 224h1v3h-1zM737 227h1v2h-1zM738 229h1v1h-1zM739 230h1v2h-1zM740 232h1v1h-1zM741 233h1v1h-1zM742 234h1v2h-1zM743 236h1v1h-1zM744 237h1v1h-1zM745 238h1v1h-1zM748 240h1v1h-1zM749 241h1v1h-1zM750 242h1v1h-1zM751 243h1v1h-1zM752 244h1v1h-1zM753 245h1v1h-1zM754 246h1v2h-1zM755 248h1v1h-1zM756 249h1v1h-1zM757 250h1v1h-1zM758 251h1v1h-1zM759 252h1v1h-1zM760 253h1v1h-1zM761 254h1v1h-1zM762 255h1v1h-1zM763 256h1v1h-1zM764 257h1v1h-1zM765 258h1v1h-1zM766 259h1v1h-1zM767 260h1v1h-1zM768 261h1v1h-1zM769 262h1v1h-1zM770 263h1v1h-1zM771 264h1v1h-1zM772 265h1v1h-1zM773 266h1v2h-1zM774 268h1v2h-1zM775 270h1v2h-1zM776 272h1v2h-1zM777 274h1v2h-1zM778 276h1v2h-1zM779 278h1v2h-1zM780 280h1v2h-1zM781 282h1v2h-1zM782 284h1v2h-1zM783 286h1v2h-1zM784 288h1v2h-1zM785 290h1v2h-1zM786 292h1v2h-1zM787 294h1v2h-1zM788 296h1v2h-1zM789 298h1v1h-1zM790 299h1v2h-1zM791 301h1v1h-1zM792 302h1v2h-1zM793 304h1v1h-1zM794 305h1v2h-1zM795 307h1v2h-1zM796 309h1v1h-1zM797 310h1v1h-1zM800 312h1v1h-1zM801 313h1v1h-1zM802 314h1v1h-1zM803 315h1v2h-1zM804 317h1v1h-1zM805 318h1v1h-1zM806 319h1v2h-1zM807 321h1v1h-1zM808 322h1v2h-1zM809 324h1v2h-1zM810 326h1v2h-1zM811 328h1v1h-1zM812 329h1v1h-1zM813 330h1v1h-1zM814 331h1v2h-1zM815 333h1v1h-1zM816 334h1v1h-1zM817 335h1v1h-1zM818 336h1v1h-1zM819 337h1v1h-1zM820 338h1v1h-1zM821 339h1v1h-1zM822 340h1v1h-1zM823 341h1v1h-1zM824 342h1v1h-1zM827 344h1v1h-1zM828 345h1v1h-1zM831 347h1v1h-1zM834 349h1v1h-1zM837 351h1v1h-1z" fill="#ff0000"/>
<path d="M14 25h2v1h-2zM37 52h3v1h-3zM46 59h2v1h-2zM101 143h2v1h-2zM103 144h2v1h-2zM105 145h3v1h-3zM108 146h2v1h-2zM110 147h2v1h-2zM112 148h2v1h-2zM523 171h9v1h-9zM519 172h4v1h-4zM532 172h2v1h-2zM679 172h6v1h-6zM516 173h3v1h-3zM534 173h2v1h-2zM677 173h2v1h-2zM513 174h3v1h-3zM536 174h2v1h-2zM510 175h3v1h-3zM538 175h2v1h-2zM687 175h2v1h-2zM507 176h3v1h-3zM540 176h4v1h-4zM673 176h2v1h-2zM503 177h4v1h-4zM544 177h3v1h-3zM500 178h3v1h-3zM547 178h4v1h-4zM691 178h2v1h-2zM497 179h3v1h-3zM551 179h9v1h-9zM693 179h2v1h-2zM495 180h2v1h-2zM560 180h8v1h-8zM695 180h2v1h-2zM493 181h2v1h-2zM568 181h3v1h-3zM697 181h7v1h-7zM491 182h2v1h-2zM704 182h7v1h-7zM487 183h4v1h-4zM572 183h2v1h-2zM711 183h3v1h-3zM483 184h4v1h-4zM714 184h4v1h-4zM480 185h3v1h-3zM718 185h2v1h-2zM478 186h2v1h-2zM576 186h2v1h-2zM720 186h2v1h-2zM722 187h2v1h-2zM724 188h2v1h-2zM474 189h2v1h-2zM580 189h2v1h-2zM726 189h2v1h-2zM728 190h2v1h-2zM621 191h13v1h-13zM730 191h2v1h-2zM584 192h2v1h-2zM618 192h3v1h-3zM634 192h2v1h-2zM615 193h3v1h-3zM636 193h2v1h-2zM468 194h2v1h-2zM587 194h2v1h-2zM613 194h2v1h-2zM638 194h3v1h-3zM656 194h2v1h-2zM589 195h2v1h-2zM611 195h2v1h-2zM641 195h2v1h-2zM654 195h2v1h-2zM591 196h2v1h-2zM643 196h2v1h-2zM652 196h2v1h-2zM593 197h2v1h-2zM608 197h2v1h-2zM645 197h7v1h-7zM595 198h3v1h-3zM462 199h2v1h-2zM598 199h4v1h-4zM605 199h2v1h-2zM602 200h3v1h-3zM459 201h2v1h-2zM456 202h3v1h-3zM443 203h5v1h-5zM453 203h3v1h-3zM441 204h2v1h-2zM448 204h5v1h-5zM439 205h2v1h-2zM249 218h12v1h-12zM245 219h4v1h-4zM261 219h4v1h-4zM243 220h2v1h-2zM265 220h2v1h-2zM240 222h2v1h-2zM268 222h2v1h-2zM233 228h2v1h-2zM153 230h2v1h-2zM155 231h4v1h-4zM276 231h2v1h-2zM159 232h9v1h-9zM228 232h2v1h-2zM278 232h2v1h-2zM168 233h2v1h-2zM226 233h2v1h-2zM417 233h2v1h-2zM170 234h2v1h-2zM224 234h2v1h-2zM172 235h11v1h-11zM413 236h2v1h-2zM219 238h2v1h-2zM408 240h2v1h-2zM402 245h2v1h-2zM767 245h2v1h-2zM206 251h2v1h-2zM200 253h5v1h-5zM302 260h2v1h-2zM306 263h2v1h-2zM308 264h2v1h-2zM310 265h2v1h-2zM312 266h2v1h-2zM314 267h2v1h-2zM316 268h2v1h-2zM318 269h2v1h-2zM322 272h2v1h-2zM348 302h10v1h-10zM816 314h2v1h-2zM818 315h2v1h-2zM821 317h2v1h-2zM824 319h2v1h-2zM827 321h2v1h-2zM831 324h2v1h-2zM853 353h2v1h-2zM855 354h2v1h-2zM870 354h7v1h-7zM857 355h4v1h-4zM866 355h4v1h-4zM861 356h5v1h-5zM10 21h1v1h-1zM11 22h1v1h-1zM12 23h1v1h-1zM13 24h1v1h-1zM16 26h1v1h-1zM17 27h1v1h-1zM18 28h1v1h-1zM19 29h1v1h-1zM20 30h1v1h-1zM21 31h1v1h-1zM22 32h1v2h-1zM23 34h1v1h-1zM24 35h1v1h-1zM25 36h1v2h-1zM26 38h1v1h-1zM27 39h1v2h-1zM28 41h1v1h-1zM29 42h1v2h-1zM30 44h1v1h-1zM31 45h1v1h-1zM32 46h1v2h-1zM33 48h1v1h-1zM34 49h1v1h-1zM35 50h1v1h-1zM36 51h1v1h-1zM40 53h1v1h-1zM41 54h1v1h-1zM42 55h1v1h-1zM43 56h1v1h-1zM44 57h1v1h-1zM45 58h1v1h-1zM48 60h1v1h-1zM49 61h1v2h-1zM50 63h1v2h-1zM51 65h1v2h-1zM52 67h1v1h-1zM53 68h1v2h-1zM54 70h1v1h-1zM55 71h1v2h-1zM56 73h1v1h-1zM57 74h1v2h-1zM58 76h1v1h-1zM59 77h1v2h-1zM60 79h1v1h-1zM61 80h1v1h-1zM62 81h1v2h-1zM63 83h1v1h-1zM64 84h1v2h-1zM65 86h1v2h-1zM66 88h1v2h-1zM67 90h1v2h-1zM68 92h1v1h-1zM69 93h1v1h-1zM70 94h1v1h-1zM71 95h1v1h-1zM72 96h1v1h-1zM73 97h1v2h-1zM74 99h1v2h-1zM75 101h1v3h-1zM76 104h1v3h-1zM77 107h1v2h-1zM78 109h1v2h-1zM79 111h1v2h-1zM80 113h1v2h-1zM81 115h1v1h-1zM82 116h1v2h-1zM83 118h1v2h-1zM84 120h1v2h-1zM85 122h1v1h-1zM86 123h1v2h-1zM87 125h1v1h-1zM88 126h1v2h-1zM89 128h1v1h-1zM90 129h1v2h-1zM91 131h1v1h-1zM92 132h1v2h-1zM93 134h1v1h-1zM94 135h1v1h-1zM95 136h1v1h-1zM96 137h1v1h-1zM97 138h1v2h-1zM98 140h1v1h-1zM99 141h1v1h-1zM100 142h1v1h-1zM114 149h1v1h-1zM115 150h1v1h-1zM116 151h1v1h-1zM117 152h1v1h-1zM118 153h1v1h-1zM119 154h1v2h-1zM120 156h1v2h-1zM121 158h1v2h-1zM122 160h1v2h-1zM123 162h1v3h-1zM124 165h1v2h-1zM125 167h1v2h-1zM126 169h1v3h-1zM127 172h1v2h-1zM128 174h1v3h-1zM129 177h1v4h-1zM130 181h1v3h-1zM131 184h1v3h-1zM132 187h1v4h-1zM133 191h1v3h-1zM134 194h1v2h-1zM135 196h1v2h-1zM136 198h1v2h-1zM137 200h1v2h-1zM138 202h1v2h-1zM139 204h1v3h-1zM140 207h1v2h-1zM141 209h1v2h-1zM142 211h1v3h-1zM143 214h1v2h-1zM144 216h1v2h-1zM145 218h1v2h-1zM146 220h1v2h-1zM147 222h1v2h-1zM148 224h1v2h-1zM149 226h1v1h-1zM150 227h1v1h-1zM151 228h1v1h-1zM152 229h1v1h-1zM183 236h1v1h-1zM184 237h1v1h-1zM185 238h1v1h-1zM186 239h1v1h-1zM187 240h1v1h-1zM188 241h1v1h-1zM189 242h1v1h-1zM190 243h1v1h-1zM191 244h1v1h-1zM192 245h1v1h-1zM193 246h1v1h-1zM194 247h1v1h-1zM195 248h1v1h-1zM196 249h1v1h-1zM197 250h1v1h-1zM198 251h1v1h-1zM199 252h1v1h-1zM205 252h1v1h-1zM208 250h1v1h-1zM209 249h1v1h-1zM210 248h1v1h-1zM211 247h1v1h-1zM212 246h1v1h-1zM213 244h1v2h-1zM214 243h1v1h-1zM215 242h1v1h-1zM216 241h1v1h-1zM217 240h1v1h-1zM218 239h1v1h-1zM221 237h1v1h-1zM222 236h1v1h-1zM223 235h1v1h-1zM230 231h1v1h-1zM231 230h1v1h-1zM232 229h1v1h-1zM235 227h1v1h-1zM236 226h1v1h-1zM237 225h1v1h-1zM238 224h1v1h-1zM239 223h1v1h-1zM242 221h1v1h-1zM267 221h1v1h-1zM270 223h1v1h-1zM271 224h1v2h-1zM272 226h1v1h-1zM273 227h1v1h-1zM274 228h1v2h-1zM275 230h1v1h-1zM280 233h1v1h-1zM281 234h1v2h-1zM282 236h1v1h-1zM283 237h1v1h-1zM284 238h1v2h-1zM285 240h1v1h-1zM286 241h1v1h-1zM287 242h1v1h-1zM288 243h1v1h-1zM289 244h1v1h-1zM290 245h1v2h-1zM291 247h1v1h-1zM292 248h1v1h-1zM293 249h1v1h-1zM294 250h1v1h-1zM295 251h1v1h-1zM296 252h1v2h-1zM297 254h1v1h-1zM298 255h1v1h-1zM299 256h1v2h-1zM300 258h1v1h-1zM301 259h1v1h-1zM304 261h1v1h-1zM305 262h1v1h-1zM320 270h1v1h-1zM321 271h1v1h-1zM324 273h1v1h-1zM325 274h1v1h-1zM326 275h1v1h-1zM327 276h1v1h-1zM328 277h1v1h-1zM329 278h1v1h-1zM330 279h1v1h-1zM331 280h1v1h-1zM332 281h1v1h-1zM333 282h1v1h-1zM334 283h1v1h-1zM335 284h1v1h-1zM336 285h1v1h-1zM337 286h1v2h-1zM338 288h1v1h-1zM339 289h1v1h-1zM340 290h1v2h-1zM341 292h1v1h-1zM342 293h1v2h-1zM343 295h1v1h-1zM344 296h1v2h-1zM345 298h1v2h-1zM346 300h1v1h-1zM347 301h1v1h-1zM358 301h1v1h-1zM359 300h1v1h-1zM360 298h1v2h-1zM361 297h1v1h-1zM362 296h1v1h-1zM363 295h1v1h-1zM364 294h1v1h-1zM365 292h1v2h-1zM366 291h1v1h-1zM367 290h1v1h-1zM368 288h1v2h-1zM369 287h1v1h-1zM370 285h1v2h-1zM371 284h1v1h-1zM372 283h1v1h-1zM373 281h1v2h-1zM374 280h1v1h-1zM375 279h1v1h-1zM376 277h1v2h-1zM377 276h1v1h-1zM378 275h1v1h-1zM379 273h1v2h-1zM380 272h1v1h-1zM381 271h1v1h-1zM382 270h1v1h-1zM383 269h1v1h-1zM384 268h1v1h-1zM385 267h1v1h-1zM386 266h1v1h-1zM387 265h1v1h-1zM388 264h1v1h-1zM389 263h1v1h-1zM390 262h1v1h-1zM391 261h1v1h-1zM392 259h1v2h-1zM393 258h1v1h-1zM394 256h1v2h-1zM395 255h1v1h-1zM396 253h1v2h-1zM397 251h1v2h-1zM398 250h1v1h-1zM399 248h1v2h-1zM400 247h1v1h-1zM401 246h1v1h-1zM404 244h1v1h-1zM405 243h1v1h-1zM406 242h1v1h-1zM407 241h1v1h-1zM410 239h1v1h-1zM411 238h1v1h-1zM412 237h1v1h-1zM415 235h1v1h-1zM416 234h1v1h-1zM419 232h1v1h-1zM420 231h1v1h-1zM421 229h1v2h-1zM422 228h1v1h-1zM423 226h1v2h-1zM424 224h1v2h-1zM425 223h1v1h-1zM426 222h1v1h-1zM427 220h1v2h-1zM428 219h1v1h-1zM429 218h1v1h-1zM430 216h1v2h-1zM431 215h1v1h-1zM432 214h1v1h-1zM433 213h1v1h-1zM434 211h1v2h-1zM435 210h1v1h-1zM436 209h1v1h-1zM437 207h1v2h-1zM438 206h1v1h-1zM461 200h1v1h-1zM464 198h1v1h-1zM465 197h1v1h-1zM466 196h1v1h-1zM467 195h1v1h-1zM470 193h1v1h-1zM471 192h1v1h-1zM472 191h1v1h-1zM473 190h1v1h-1zM476 188h1v1h-1zM477 187h1v1h-1zM571 182h1v1h-1zM574 184h1v1h-1zM575 185h1v1h-1zM578 187h1v1h-1zM579 188h1v1h-1zM582 190h1v1h-1zM583 191h1v1h-1zM586 193h1v1h-1zM607 198h1v1h-1zM610 196h1v1h-1zM658 193h1v1h-1zM659 192h1v1h-1zM660 191h1v1h-1zM661 190h1v1h-1zM662 188h1v2h-1zM663 187h1v1h-1zM664 186h1v1h-1zM665 185h1v1h-1zM666 184h1v1h-1zM667 183h1v1h-1zM668 182h1v1h-1zM669 180h1v2h-1zM670 179h1v1h-1zM671 178h1v1h-1zM672 177h1v1h-1zM675 175h1v1h-1zM676 174h1v1h-1zM685 173h1v1h-1zM686 174h1v1h-1zM689 176h1v1h-1zM690 177h1v1h-1zM732 192h1v1h-1zM733 193h1v1h-1zM734 194h1v2h-1zM735 196h1v1h-1zM736 197h1v1h-1zM737 198h1v2h-1zM738 200h1v2h-1zM739 202h1v2h-1zM740 204h1v2h-1zM741 206h1v2h-1zM742 208h1v1h-1zM743 209h1v1h-1zM744 210h1v2h-1zM745 212h1v1h-1zM746 213h1v2h-1zM747 215h1v1h-1zM748 216h1v1h-1zM749 217h1v2h-1zM750 219h1v1h-1zM751 220h1v1h-1zM752 221h1v2h-1zM753 223h1v1h-1zM754 224h1v1h-1zM755 225h1v2h-1zM756 227h1v2h-1zM757 229h1v2h-1zM758 231h1v2h-1zM759 233h1v1h-1zM760 234h1v2h-1zM761 236h1v2h-1zM762 238h1v2h-1zM763 240h1v2h-1zM764 242h1v1h-1zM765 243h1v1h-1zM766 244h1v1h-1zM769 246h1v1h-1zM770 247h1v1h-1zM771 248h1v1h-1zM772 249h1v1h-1zM773 250h1v1h-1zM774 251h1v2h-1zM775 253h1v1h-1zM776 254h1v1h-1zM777 255h1v2h-1zM778 257h1v2h-1zM779 259h1v2h-1zM780 261h1v2h-1zM781 263h1v2h-1zM782 265h1v3h-1zM783 268h1v2h-1zM784 270h1v2h-1zM785 272h1v2h-1zM786 274h1v2h-1zM787 276h1v2h-1zM788 278h1v2h-1zM789 280h1v1h-1zM790 281h1v1h-1zM791 282h1v2h-1zM792 284h1v1h-1zM793 285h1v2h-1zM794 287h1v1h-1zM795 288h1v1h-1zM796 289h1v1h-1zM797 290h1v1h-1zM798 291h1v2h-1zM799 293h1v1h-1zM800 294h1v1h-1zM801 295h1v1h-1zM802 296h1v2h-1zM803 298h1v1h-1zM804 299h1v2h-1zM805 301h1v2h-1zM806 303h1v1h-1zM807 304h1v2h-1zM808 306h1v1h-1zM809 307h1v1h-1zM810 308h1v1h-1zM811 309h1v1h-1zM812 310h1v1h-1zM813 311h1v1h-1zM814 312h1v1h-1zM815 313h1v1h-1zM820 316h1v1h-1zM823 318h1v1h-1zM826 320h1v1h-1zM829 322h1v1h-1zM830 323h1v1h-1zM833 325h1v1h-1zM834 326h1v2h-1zM835 328h1v2h-1zM836 330h1v2h-1zM837 332h1v2h-1zM838 334h1v2h-1zM839 336h1v1h-1zM840 337h1v2h-1zM841 339h1v1h-1zM842 340h1v1h-1zM843 341h1v2h-1zM844 343h1v1h-1zM845 344h1v1h-1zM846 345h1v1h-1zM847 346h1v1h-1zM848 347h1v1h-1zM849 348h1v2h-1zM850 350h1v1h-1zM851 351h1v1h-1zM852 352h1v1h-1z" fill="#000088"/>
</g>
<rect x="4" y="142" width="1102" height="2" fill="#ff0000"/>
<rect x="3" y="140" width="6" height="6" fill="#ff0000"/>
<rect x="5" y="142" width="2" height="2" fill="#fff"/>
<rect x="1100" y="140" width="6" height="6" fill="#ff0000"/>
<rect x="1102" y="142" width="2" height="2" fill="#fff"/>
<rect x="1108" y="137" width="41" height="11" fill="#ff0000"/>
<text x="1112.7" y="145.6" font-size="9.6" fill="#fff" stroke="#fff" stroke-width="0.25" textLength="32.3" lengthAdjust="spacingAndGlyphs">0.99815</text>
<rect x="4" y="224" width="1102" height="2" fill="#ff0000"/>
<rect x="3" y="222" width="6" height="6" fill="#ff0000"/>
<rect x="5" y="224" width="2" height="2" fill="#fff"/>
<rect x="1100" y="222" width="6" height="6" fill="#ff0000"/>
<rect x="1102" y="224" width="2" height="2" fill="#fff"/>
<rect x="1108" y="219" width="41" height="11" fill="#ff0000"/>
<text x="1112.7" y="227.6" font-size="9.6" fill="#fff" stroke="#fff" stroke-width="0.25" textLength="32.3" lengthAdjust="spacingAndGlyphs">0.98705</text>
<rect x="4" y="302" width="1102" height="2" fill="#32cd32"/>
<rect x="3" y="300" width="6" height="6" fill="#32cd32"/>
<rect x="5" y="302" width="2" height="2" fill="#fff"/>
<rect x="1100" y="300" width="6" height="6" fill="#32cd32"/>
<rect x="1102" y="302" width="2" height="2" fill="#fff"/>
<rect x="1108" y="297" width="41" height="11" fill="#32cd32"/>
<text x="1112.7" y="305.6" font-size="9.6" fill="#fff" stroke="#fff" stroke-width="0.25" textLength="32.3" lengthAdjust="spacingAndGlyphs">0.97653</text>
<rect x="4" y="415" width="1102" height="2" fill="#0000ff"/>
<rect x="3" y="413" width="6" height="6" fill="#0000ff"/>
<rect x="5" y="415" width="2" height="2" fill="#fff"/>
<rect x="1100" y="413" width="6" height="6" fill="#0000ff"/>
<rect x="1102" y="415" width="2" height="2" fill="#fff"/>
<rect x="1108" y="410" width="41" height="11" fill="#0000ff"/>
<text x="1112.7" y="418.6" font-size="9.6" fill="#fff" stroke="#fff" stroke-width="0.25" textLength="32.3" lengthAdjust="spacingAndGlyphs">0.96116</text>
<path d="M7 27h7l-3.5 4z" fill="#000" shape-rendering="geometricPrecision"/>
<text x="19.7" y="31.9" font-size="9.6" fill="#000" stroke="#000" stroke-width="0.1" textLength="64" lengthAdjust="spacingAndGlyphs">USDCHF,Daily</text>
<text x="90.5" y="31.9" font-size="9.6" fill="#000" stroke="#000" stroke-width="0.1" textLength="32.3" lengthAdjust="spacingAndGlyphs">0.96996</text>
<text x="126.6" y="31.9" font-size="9.6" fill="#000" stroke="#000" stroke-width="0.1" textLength="32.3" lengthAdjust="spacingAndGlyphs">0.97059</text>
<text x="162.4" y="31.9" font-size="9.6" fill="#000" stroke="#000" stroke-width="0.1" textLength="32.3" lengthAdjust="spacingAndGlyphs">0.96902</text>
<text x="198.2" y="31.9" font-size="9.6" fill="#000" stroke="#000" stroke-width="0.1" textLength="32.3" lengthAdjust="spacingAndGlyphs">0.97018</text>
<rect x="1107" y="27" width="2" height="1" fill="#000"/>
<text x="1112.7" y="30.5" font-size="9.6" fill="#000" stroke="#000" stroke-width="0.25" textLength="32.5" lengthAdjust="spacingAndGlyphs">1.01380</text>
<rect x="1107" y="60" width="2" height="1" fill="#000"/>
<text x="1112.7" y="63.5" font-size="9.6" fill="#000" stroke="#000" stroke-width="0.25" textLength="32.5" lengthAdjust="spacingAndGlyphs">1.00940</text>
<rect x="1107" y="93" width="2" height="1" fill="#000"/>
<text x="1112.7" y="96.5" font-size="9.6" fill="#000" stroke="#000" stroke-width="0.25" textLength="32.5" lengthAdjust="spacingAndGlyphs">1.00490</text>
<rect x="1107" y="126" width="2" height="1" fill="#000"/>
<text x="1112.7" y="129.5" font-size="9.6" fill="#000" stroke="#000" stroke-width="0.25" textLength="32.5" lengthAdjust="spacingAndGlyphs">1.00040</text>
<rect x="1107" y="159" width="2" height="1" fill="#000"/>
<text x="1112.7" y="162.5" font-size="9.6" fill="#000" stroke="#000" stroke-width="0.25" textLength="32.5" lengthAdjust="spacingAndGlyphs">0.99600</text>
<rect x="1107" y="192" width="2" height="1" fill="#000"/>
<text x="1112.7" y="195.5" font-size="9.6" fill="#000" stroke="#000" stroke-width="0.25" textLength="32.5" lengthAdjust="spacingAndGlyphs">0.99150</text>
<rect x="1107" y="258" width="2" height="1" fill="#000"/>
<text x="1112.7" y="261.5" font-size="9.6" fill="#000" stroke="#000" stroke-width="0.25" textLength="32.5" lengthAdjust="spacingAndGlyphs">0.98260</text>
<rect x="1107" y="291" width="2" height="1" fill="#000"/>
<text x="1112.7" y="294.5" font-size="9.6" fill="#000" stroke="#000" stroke-width="0.25" textLength="32.5" lengthAdjust="spacingAndGlyphs">0.97810</text>
<rect x="1107" y="324" width="2" height="1" fill="#000"/>
<text x="1112.7" y="327.5" font-size="9.6" fill="#000" stroke="#000" stroke-width="0.25" textLength="32.5" lengthAdjust="spacingAndGlyphs">0.97360</text>
<rect x="1107" y="357" width="2" height="1" fill="#000"/>
<text x="1112.7" y="360.5" font-size="9.6" fill="#000" stroke="#000" stroke-width="0.25" textLength="32.5" lengthAdjust="spacingAndGlyphs">0.96920</text>
<rect x="1107" y="390" width="2" height="1" fill="#000"/>
<text x="1112.7" y="393.5" font-size="9.6" fill="#000" stroke="#000" stroke-width="0.25" textLength="32.5" lengthAdjust="spacingAndGlyphs">0.96470</text>
<rect x="1107" y="423" width="2" height="1" fill="#000"/>
<text x="1112.7" y="426.5" font-size="9.6" fill="#000" stroke="#000" stroke-width="0.25" textLength="32.5" lengthAdjust="spacingAndGlyphs">0.96020</text>
<rect x="1108" y="137" width="41" height="11" fill="#ff0000"/>
<text x="1112.7" y="145.6" font-size="9.6" fill="#fff" stroke="#fff" stroke-width="0.25" textLength="32.3" lengthAdjust="spacingAndGlyphs">0.99815</text>
<rect x="1108" y="219" width="41" height="11" fill="#ff0000"/>
<text x="1112.7" y="227.6" font-size="9.6" fill="#fff" stroke="#fff" stroke-width="0.25" textLength="32.3" lengthAdjust="spacingAndGlyphs">0.98705</text>
<rect x="1108" y="297" width="41" height="11" fill="#32cd32"/>
<text x="1112.7" y="305.6" font-size="9.6" fill="#fff" stroke="#fff" stroke-width="0.25" textLength="32.3" lengthAdjust="spacingAndGlyphs">0.97653</text>
<rect x="1108" y="345" width="41" height="11" fill="#000"/>
<text x="1112.7" y="353.6" font-size="9.6" fill="#fff" stroke="#fff" stroke-width="0.25" textLength="32.3" lengthAdjust="spacingAndGlyphs">0.97018</text>
<rect x="1108" y="410" width="41" height="11" fill="#0000ff"/>
<text x="1112.7" y="418.6" font-size="9.6" fill="#fff" stroke="#fff" stroke-width="0.25" textLength="32.3" lengthAdjust="spacingAndGlyphs">0.96116</text>
<line x1="5" y1="453.5" x2="1106" y2="453.5" stroke="#c0c0c0" stroke-width="1" stroke-dasharray="3,3"/>
<line x1="5" y1="483.5" x2="1106" y2="483.5" stroke="#c0c0c0" stroke-width="1" stroke-dasharray="3,3"/>
<g clip-path="url(#cr)">
<path d="M678 457h2v1h-2zM666 458h4v1h-4zM674 458h4v1h-4zM366 459h7v1h-7zM403 459h2v1h-2zM426 459h2v1h-2zM468 459h2v1h-2zM606 459h3v1h-3zM662 459h4v1h-4zM670 459h4v1h-4zM245 460h4v1h-4zM364 460h2v1h-2zM401 460h2v1h-2zM476 460h5v1h-5zM519 460h2v1h-2zM603 460h3v1h-3zM655 460h7v1h-7zM243 461h2v1h-2zM362 461h2v1h-2zM396 461h5v1h-5zM417 461h8v1h-8zM435 461h4v1h-4zM510 461h9v1h-9zM601 461h2v1h-2zM653 461h2v1h-2zM179 462h3v1h-3zM250 462h2v1h-2zM263 462h2v1h-2zM394 462h2v1h-2zM415 462h2v1h-2zM432 462h3v1h-3zM439 462h2v1h-2zM482 462h2v1h-2zM505 462h5v1h-5zM563 462h2v1h-2zM172 463h2v1h-2zM177 463h2v1h-2zM182 463h3v1h-3zM391 463h3v1h-3zM411 463h4v1h-4zM455 463h3v1h-3zM484 463h2v1h-2zM501 463h4v1h-4zM561 463h2v1h-2zM174 464h3v1h-3zM253 464h2v1h-2zM384 464h7v1h-7zM408 464h3v1h-3zM453 464h2v1h-2zM458 464h3v1h-3zM486 464h9v1h-9zM498 464h3v1h-3zM556 464h5v1h-5zM255 465h6v1h-6zM461 465h2v1h-2zM495 465h3v1h-3zM554 465h2v1h-2zM612 465h5v1h-5zM333 466h2v1h-2zM352 466h3v1h-3zM463 466h2v1h-2zM552 466h2v1h-2zM592 466h5v1h-5zM208 467h2v1h-2zM331 467h2v1h-2zM350 467h2v1h-2zM355 467h2v1h-2zM645 467h2v1h-2zM110 468h2v1h-2zM188 468h5v1h-5zM210 468h3v1h-3zM236 468h2v1h-2zM322 468h2v1h-2zM325 468h2v1h-2zM329 468h2v1h-2zM549 468h2v1h-2zM647 468h2v1h-2zM100 469h6v1h-6zM108 469h2v1h-2zM156 469h2v1h-2zM161 469h4v1h-4zM213 469h2v1h-2zM233 469h3v1h-3zM318 469h2v1h-2zM327 469h2v1h-2zM446 469h2v1h-2zM547 469h2v1h-2zM3 470h5v1h-5zM41 470h2v1h-2zM46 470h3v1h-3zM106 470h2v1h-2zM113 470h2v1h-2zM158 470h3v1h-3zM165 470h2v1h-2zM215 470h2v1h-2zM231 470h2v1h-2zM314 470h2v1h-2zM868 470h7v1h-7zM8 471h2v1h-2zM14 471h2v1h-2zM17 471h2v1h-2zM43 471h3v1h-3zM167 471h2v1h-2zM627 471h6v1h-6zM701 471h3v1h-3zM866 471h2v1h-2zM10 472h2v1h-2zM203 472h2v1h-2zM311 472h2v1h-2zM620 472h2v1h-2zM625 472h2v1h-2zM704 472h3v1h-3zM862 472h2v1h-2zM196 473h7v1h-7zM267 473h3v1h-3zM309 473h2v1h-2zM340 473h5v1h-5zM542 473h2v1h-2zM622 473h3v1h-3zM634 473h2v1h-2zM698 473h2v1h-2zM707 473h2v1h-2zM816 473h7v1h-7zM851 473h2v1h-2zM858 473h2v1h-2zM220 474h6v1h-6zM270 474h3v1h-3zM304 474h5v1h-5zM692 474h2v1h-2zM709 474h2v1h-2zM750 474h4v1h-4zM823 474h2v1h-2zM849 474h2v1h-2zM853 474h2v1h-2zM92 475h5v1h-5zM226 475h3v1h-3zM576 475h2v1h-2zM587 475h2v1h-2zM694 475h3v1h-3zM711 475h2v1h-2zM719 475h2v1h-2zM748 475h2v1h-2zM754 475h4v1h-4zM825 475h2v1h-2zM846 475h3v1h-3zM855 475h2v1h-2zM53 476h2v1h-2zM90 476h2v1h-2zM301 476h2v1h-2zM578 476h2v1h-2zM583 476h4v1h-4zM713 476h6v1h-6zM758 476h2v1h-2zM766 476h2v1h-2zM827 476h2v1h-2zM843 476h3v1h-3zM24 477h2v1h-2zM55 477h3v1h-3zM290 477h2v1h-2zM294 477h3v1h-3zM529 477h2v1h-2zM537 477h2v1h-2zM580 477h3v1h-3zM688 477h2v1h-2zM728 477h4v1h-4zM760 477h3v1h-3zM809 477h2v1h-2zM26 478h2v1h-2zM58 478h3v1h-3zM292 478h2v1h-2zM297 478h3v1h-3zM531 478h2v1h-2zM726 478h2v1h-2zM763 478h2v1h-2zM811 478h2v1h-2zM830 478h2v1h-2zM28 479h2v1h-2zM533 479h3v1h-3zM798 479h2v1h-2zM832 479h2v1h-2zM30 480h3v1h-3zM738 480h2v1h-2zM796 480h2v1h-2zM802 480h2v1h-2zM742 481h2v1h-2zM835 481h2v1h-2zM142 482h5v1h-5zM773 482h2v1h-2zM793 482h2v1h-2zM837 482h2v1h-2zM64 483h2v1h-2zM140 483h2v1h-2zM147 483h6v1h-6zM775 483h2v1h-2zM839 483h2v1h-2zM66 484h4v1h-4zM70 485h3v1h-3zM121 485h2v1h-2zM778 485h2v1h-2zM73 486h2v1h-2zM123 486h3v1h-3zM780 486h7v1h-7zM75 487h3v1h-3zM126 487h3v1h-3zM787 487h2v1h-2zM78 488h3v1h-3zM129 488h2v1h-2zM134 488h3v1h-3zM131 489h3v1h-3zM12 473h1v1h-1zM13 472h1v1h-1zM16 470h1v1h-1zM19 472h1v1h-1zM20 473h1v1h-1zM21 474h1v1h-1zM22 475h1v1h-1zM23 476h1v1h-1zM33 479h1v1h-1zM34 478h1v1h-1zM35 477h1v1h-1zM36 476h1v1h-1zM37 474h1v2h-1zM38 472h1v2h-1zM39 470h1v2h-1zM40 469h1v1h-1zM49 471h1v1h-1zM50 472h1v2h-1zM51 474h1v1h-1zM52 475h1v1h-1zM61 479h1v1h-1zM62 480h1v2h-1zM63 482h1v1h-1zM81 486h1v2h-1zM82 485h1v1h-1zM83 483h1v2h-1zM84 482h1v1h-1zM85 481h1v1h-1zM86 480h1v1h-1zM87 479h1v1h-1zM88 478h1v1h-1zM89 477h1v1h-1zM97 473h1v2h-1zM98 472h1v1h-1zM99 470h1v2h-1zM112 469h1v1h-1zM115 471h1v1h-1zM116 472h1v2h-1zM117 474h1v3h-1zM118 477h1v3h-1zM119 480h1v3h-1zM120 483h1v2h-1zM137 487h1v1h-1zM138 485h1v2h-1zM139 484h1v1h-1zM152 482h1v1h-1zM153 478h1v4h-1zM154 475h1v3h-1zM155 471h1v4h-1zM156 470h1v1h-1zM169 469h1v2h-1zM170 467h1v2h-1zM171 465h1v2h-1zM172 464h1v1h-1zM185 464h1v1h-1zM186 465h1v2h-1zM187 467h1v1h-1zM193 469h1v1h-1zM194 470h1v2h-1zM195 472h1v1h-1zM205 471h1v1h-1zM206 469h1v2h-1zM207 468h1v1h-1zM217 471h1v1h-1zM218 472h1v1h-1zM219 473h1v1h-1zM229 473h1v2h-1zM230 471h1v2h-1zM238 467h1v1h-1zM239 465h1v2h-1zM240 464h1v1h-1zM241 463h1v1h-1zM242 462h1v1h-1zM249 461h1v1h-1zM252 463h1v1h-1zM261 464h1v1h-1zM262 463h1v1h-1zM264 461h1v1h-1zM265 463h1v4h-1zM266 467h1v4h-1zM267 471h1v2h-1zM273 475h1v2h-1zM274 477h1v2h-1zM275 479h1v2h-1zM276 481h1v1h-1zM277 479h1v2h-1zM278 478h1v1h-1zM279 476h1v2h-1zM280 475h1v1h-1zM281 476h1v1h-1zM282 477h1v1h-1zM283 478h1v1h-1zM284 479h1v1h-1zM285 478h1v1h-1zM286 477h1v1h-1zM287 476h1v1h-1zM288 475h1v1h-1zM289 476h1v1h-1zM300 477h1v1h-1zM303 475h1v1h-1zM313 471h1v1h-1zM316 469h1v1h-1zM317 468h1v1h-1zM320 470h1v1h-1zM321 469h1v1h-1zM324 467h1v1h-1zM335 465h1v1h-1zM336 466h1v2h-1zM337 468h1v1h-1zM338 469h1v2h-1zM339 471h1v2h-1zM345 472h1v1h-1zM346 471h1v1h-1zM347 470h1v1h-1zM348 469h1v1h-1zM349 468h1v1h-1zM357 466h1v1h-1zM358 465h1v1h-1zM359 464h1v1h-1zM360 463h1v1h-1zM361 462h1v1h-1zM373 460h1v1h-1zM374 461h1v1h-1zM375 462h1v1h-1zM376 463h1v1h-1zM377 464h1v2h-1zM378 466h1v1h-1zM379 467h1v2h-1zM380 469h1v1h-1zM381 468h1v1h-1zM382 466h1v2h-1zM383 465h1v1h-1zM405 460h1v1h-1zM406 461h1v2h-1zM407 463h1v1h-1zM425 460h1v1h-1zM428 458h1v1h-1zM429 459h1v1h-1zM430 460h1v1h-1zM431 461h1v1h-1zM441 463h1v1h-1zM442 464h1v2h-1zM443 466h1v1h-1zM444 467h1v1h-1zM445 468h1v1h-1zM448 470h1v1h-1zM449 469h1v1h-1zM450 467h1v2h-1zM451 466h1v1h-1zM452 465h1v1h-1zM465 464h1v2h-1zM466 462h1v2h-1zM467 460h1v2h-1zM468 458h1v1h-1zM469 460h1v1h-1zM470 461h1v1h-1zM471 462h1v2h-1zM472 464h1v1h-1zM473 463h1v1h-1zM474 462h1v1h-1zM475 461h1v1h-1zM481 461h1v1h-1zM521 461h1v1h-1zM522 462h1v2h-1zM523 464h1v1h-1zM524 465h1v2h-1zM525 467h1v3h-1zM526 470h1v2h-1zM527 472h1v3h-1zM528 475h1v2h-1zM536 478h1v1h-1zM539 476h1v1h-1zM540 475h1v1h-1zM541 474h1v1h-1zM544 472h1v1h-1zM545 471h1v1h-1zM546 470h1v1h-1zM551 467h1v1h-1zM565 463h1v1h-1zM566 464h1v1h-1zM567 465h1v1h-1zM568 466h1v1h-1zM569 467h1v1h-1zM570 468h1v1h-1zM571 469h1v1h-1zM572 470h1v1h-1zM573 471h1v1h-1zM574 472h1v1h-1zM575 473h1v2h-1zM588 474h1v1h-1zM589 472h1v2h-1zM590 470h1v2h-1zM591 468h1v2h-1zM592 467h1v1h-1zM597 465h1v1h-1zM598 464h1v1h-1zM599 463h1v1h-1zM600 462h1v1h-1zM609 460h1v2h-1zM610 462h1v1h-1zM611 463h1v2h-1zM617 466h1v2h-1zM618 468h1v2h-1zM619 470h1v2h-1zM633 472h1v1h-1zM636 474h1v1h-1zM637 473h1v1h-1zM638 472h1v1h-1zM639 471h1v1h-1zM640 470h1v1h-1zM641 469h1v1h-1zM642 468h1v1h-1zM643 467h1v1h-1zM644 466h1v1h-1zM649 466h1v2h-1zM650 465h1v1h-1zM651 464h1v1h-1zM652 462h1v2h-1zM680 458h1v2h-1zM681 460h1v2h-1zM682 462h1v3h-1zM683 465h1v4h-1zM684 469h1v2h-1zM685 471h1v2h-1zM686 473h1v2h-1zM687 475h1v2h-1zM688 478h1v1h-1zM690 476h1v1h-1zM691 475h1v1h-1zM697 474h1v1h-1zM700 472h1v1h-1zM721 476h1v1h-1zM722 477h1v2h-1zM723 479h1v1h-1zM724 480h1v1h-1zM725 479h1v1h-1zM732 478h1v1h-1zM733 479h1v1h-1zM734 480h1v1h-1zM735 481h1v1h-1zM736 482h1v1h-1zM737 481h1v1h-1zM740 479h1v1h-1zM741 480h1v1h-1zM744 482h1v1h-1zM745 480h1v2h-1zM746 478h1v2h-1zM747 476h1v2h-1zM765 477h1v1h-1zM768 475h1v1h-1zM769 476h1v2h-1zM770 478h1v1h-1zM771 479h1v2h-1zM772 481h1v1h-1zM777 484h1v1h-1zM789 486h1v1h-1zM790 485h1v1h-1zM791 484h1v1h-1zM792 483h1v1h-1zM795 481h1v1h-1zM800 478h1v1h-1zM801 479h1v1h-1zM804 481h1v1h-1zM805 480h1v1h-1zM806 478h1v2h-1zM807 477h1v1h-1zM808 476h1v1h-1zM813 477h1v1h-1zM814 475h1v2h-1zM815 474h1v1h-1zM829 477h1v1h-1zM834 480h1v1h-1zM840 482h1v1h-1zM841 480h1v2h-1zM842 478h1v2h-1zM843 477h1v1h-1zM857 474h1v1h-1zM860 472h1v1h-1zM861 471h1v1h-1zM864 473h1v1h-1zM865 472h1v1h-1zM875 471h1v1h-1z" fill="#1e90ff"/>
</g>
<text x="8" y="440.9" font-size="9.6" fill="#000" stroke="#000" stroke-width="0.1" textLength="68" lengthAdjust="spacingAndGlyphs">RSI(14) 46.5509</text>
<rect x="1107" y="430" width="1" height="1" fill="#000"/>
<text x="1110.5" y="438.6" font-size="9.6" fill="#000" stroke="#000" stroke-width="0.25" textLength="14" lengthAdjust="spacingAndGlyphs">100</text>
<text x="1110.5" y="456.8" font-size="9.6" fill="#000" stroke="#000" stroke-width="0.25" textLength="9.5" lengthAdjust="spacingAndGlyphs">70</text>
<text x="1110.5" y="486.8" font-size="9.6" fill="#000" stroke="#000" stroke-width="0.25" textLength="9.5" lengthAdjust="spacingAndGlyphs">30</text>
<rect x="1107" y="506" width="1" height="1" fill="#000"/>
<text x="1110.5" y="503.7" font-size="9.6" fill="#000" stroke="#000" stroke-width="0.25" textLength="4.7" lengthAdjust="spacingAndGlyphs">0</text>
<g clip-path="url(#cd)">
<rect x="3" y="531" width="3" height="2" fill="#c0c0c0"/>
<rect x="7" y="531" width="3" height="2" fill="#c0c0c0"/>
<rect x="11" y="531" width="3" height="4" fill="#c0c0c0"/>
<rect x="15" y="531" width="3" height="4" fill="#c0c0c0"/>
<rect x="19" y="531" width="3" height="5" fill="#c0c0c0"/>
<rect x="23" y="531" width="3" height="8" fill="#c0c0c0"/>
<rect x="27" y="531" width="3" height="11" fill="#c0c0c0"/>
<rect x="31" y="531" width="3" height="14" fill="#c0c0c0"/>
<rect x="35" y="531" width="3" height="15" fill="#c0c0c0"/>
<rect x="39" y="531" width="3" height="13" fill="#c0c0c0"/>
<rect x="43" y="531" width="3" height="11" fill="#c0c0c0"/>
<rect x="47" y="531" width="3" height="10" fill="#c0c0c0"/>
<rect x="51" y="531" width="3" height="11" fill="#c0c0c0"/>
<rect x="55" y="531" width="3" height="14" fill="#c0c0c0"/>
<rect x="59" y="531" width="3" height="16" fill="#c0c0c0"/>
<rect x="63" y="531" width="3" height="20" fill="#c0c0c0"/>
<rect x="67" y="531" width="3" height="24" fill="#c0c0c0"/>
<rect x="71" y="531" width="3" height="29" fill="#c0c0c0"/>
<rect x="75" y="531" width="3" height="32" fill="#c0c0c0"/>
<rect x="79" y="531" width="3" height="35" fill="#c0c0c0"/>
<rect x="83" y="531" width="3" height="35" fill="#c0c0c0"/>
<rect x="87" y="531" width="3" height="34" fill="#c0c0c0"/>
<rect x="91" y="531" width="3" height="32" fill="#c0c0c0"/>
<rect x="95" y="531" width="3" height="29" fill="#c0c0c0"/>
<rect x="99" y="531" width="3" height="25" fill="#c0c0c0"/>
<rect x="103" y="531" width="3" height="21" fill="#c0c0c0"/>
<rect x="107" y="531" width="3" height="19" fill="#c0c0c0"/>
<rect x="111" y="531" width="3" height="15" fill="#c0c0c0"/>
<rect x="115" y="531" width="3" height="15" fill="#c0c0c0"/>
<rect x="119" y="531" width="3" height="21" fill="#c0c0c0"/>
<rect x="123" y="531" width="3" height="27" fill="#c0c0c0"/>
<rect x="127" y="531" width="3" height="32" fill="#c0c0c0"/>
<rect x="131" y="531" width="3" height="38" fill="#c0c0c0"/>
<rect x="135" y="531" width="3" height="42" fill="#c0c0c0"/>
<rect x="139" y="531" width="3" height="43" fill="#c0c0c0"/>
<rect x="143" y="531" width="3" height="43" fill="#c0c0c0"/>
<rect x="147" y="531" width="3" height="43" fill="#c0c0c0"/>
<rect x="151" y="531" width="3" height="43" fill="#c0c0c0"/>
<rect x="155" y="531" width="3" height="36" fill="#c0c0c0"/>
<rect x="159" y="531" width="3" height="31" fill="#c0c0c0"/>
<rect x="163" y="531" width="3" height="28" fill="#c0c0c0"/>
<rect x="167" y="531" width="3" height="25" fill="#c0c0c0"/>
<rect x="171" y="531" width="3" height="19" fill="#c0c0c0"/>
<rect x="175" y="531" width="3" height="14" fill="#c0c0c0"/>
<rect x="179" y="531" width="3" height="9" fill="#c0c0c0"/>
<rect x="183" y="531" width="3" height="6" fill="#c0c0c0"/>
<rect x="187" y="531" width="3" height="5" fill="#c0c0c0"/>
<rect x="191" y="531" width="3" height="4" fill="#c0c0c0"/>
<rect x="195" y="531" width="3" height="5" fill="#c0c0c0"/>
<rect x="199" y="531" width="3" height="7" fill="#c0c0c0"/>
<rect x="203" y="531" width="3" height="8" fill="#c0c0c0"/>
<rect x="207" y="531" width="3" height="6" fill="#c0c0c0"/>
<rect x="211" y="531" width="3" height="6" fill="#c0c0c0"/>
<rect x="215" y="531" width="3" height="6" fill="#c0c0c0"/>
<rect x="219" y="531" width="3" height="7" fill="#c0c0c0"/>
<rect x="223" y="531" width="3" height="9" fill="#c0c0c0"/>
<rect x="227" y="531" width="3" height="10" fill="#c0c0c0"/>
<rect x="231" y="531" width="3" height="10" fill="#c0c0c0"/>
<rect x="235" y="531" width="3" height="8" fill="#c0c0c0"/>
<rect x="239" y="531" width="3" height="6" fill="#c0c0c0"/>
<rect x="243" y="531" width="3" height="2" fill="#c0c0c0"/>
<rect x="247" y="528" width="3" height="4" fill="#c0c0c0"/>
<rect x="251" y="527" width="3" height="5" fill="#c0c0c0"/>
<rect x="255" y="526" width="3" height="6" fill="#c0c0c0"/>
<rect x="259" y="526" width="3" height="6" fill="#c0c0c0"/>
<rect x="263" y="524" width="3" height="8" fill="#c0c0c0"/>
<rect x="267" y="528" width="3" height="4" fill="#c0c0c0"/>
<rect x="271" y="531" width="3" height="2" fill="#c0c0c0"/>
<rect x="275" y="531" width="3" height="9" fill="#c0c0c0"/>
<rect x="279" y="531" width="3" height="12" fill="#c0c0c0"/>
<rect x="283" y="531" width="3" height="17" fill="#c0c0c0"/>
<rect x="287" y="531" width="3" height="19" fill="#c0c0c0"/>
<rect x="291" y="531" width="3" height="23" fill="#c0c0c0"/>
<rect x="295" y="531" width="3" height="25" fill="#c0c0c0"/>
<rect x="299" y="531" width="3" height="27" fill="#c0c0c0"/>
<rect x="303" y="531" width="3" height="26" fill="#c0c0c0"/>
<rect x="307" y="531" width="3" height="26" fill="#c0c0c0"/>
<rect x="311" y="531" width="3" height="24" fill="#c0c0c0"/>
<rect x="315" y="531" width="3" height="21" fill="#c0c0c0"/>
<rect x="319" y="531" width="3" height="19" fill="#c0c0c0"/>
<rect x="323" y="531" width="3" height="15" fill="#c0c0c0"/>
<rect x="327" y="531" width="3" height="14" fill="#c0c0c0"/>
<rect x="331" y="531" width="3" height="11" fill="#c0c0c0"/>
<rect x="335" y="531" width="3" height="8" fill="#c0c0c0"/>
<rect x="339" y="531" width="3" height="9" fill="#c0c0c0"/>
<rect x="343" y="531" width="3" height="11" fill="#c0c0c0"/>
<rect x="347" y="531" width="3" height="10" fill="#c0c0c0"/>
<rect x="351" y="531" width="3" height="7" fill="#c0c0c0"/>
<rect x="355" y="531" width="3" height="6" fill="#c0c0c0"/>
<rect x="359" y="531" width="3" height="2" fill="#c0c0c0"/>
<rect x="363" y="528" width="3" height="4" fill="#c0c0c0"/>
<rect x="367" y="523" width="3" height="9" fill="#c0c0c0"/>
<rect x="371" y="520" width="3" height="12" fill="#c0c0c0"/>
<rect x="375" y="520" width="3" height="12" fill="#c0c0c0"/>
<rect x="379" y="522" width="3" height="10" fill="#c0c0c0"/>
<rect x="383" y="521" width="3" height="11" fill="#c0c0c0"/>
<rect x="387" y="521" width="3" height="11" fill="#c0c0c0"/>
<rect x="391" y="520" width="3" height="12" fill="#c0c0c0"/>
<rect x="395" y="518" width="3" height="14" fill="#c0c0c0"/>
<rect x="399" y="517" width="3" height="15" fill="#c0c0c0"/>
<rect x="403" y="515" width="3" height="17" fill="#c0c0c0"/>
<rect x="407" y="515" width="3" height="17" fill="#c0c0c0"/>
<rect x="411" y="516" width="3" height="16" fill="#c0c0c0"/>
<rect x="415" y="516" width="3" height="16" fill="#c0c0c0"/>
<rect x="419" y="515" width="3" height="17" fill="#c0c0c0"/>
<rect x="423" y="515" width="3" height="17" fill="#c0c0c0"/>
<rect x="427" y="514" width="3" height="18" fill="#c0c0c0"/>
<rect x="431" y="514" width="3" height="18" fill="#c0c0c0"/>
<rect x="435" y="514" width="3" height="18" fill="#c0c0c0"/>
<rect x="439" y="515" width="3" height="17" fill="#c0c0c0"/>
<rect x="443" y="517" width="3" height="15" fill="#c0c0c0"/>
<rect x="447" y="520" width="3" height="12" fill="#c0c0c0"/>
<rect x="451" y="520" width="3" height="12" fill="#c0c0c0"/>
<rect x="455" y="520" width="3" height="12" fill="#c0c0c0"/>
<rect x="459" y="520" width="3" height="12" fill="#c0c0c0"/>
<rect x="463" y="522" width="3" height="10" fill="#c0c0c0"/>
<rect x="467" y="519" width="3" height="13" fill="#c0c0c0"/>
<rect x="471" y="519" width="3" height="13" fill="#c0c0c0"/>
<rect x="475" y="517" width="3" height="15" fill="#c0c0c0"/>
<rect x="479" y="516" width="3" height="16" fill="#c0c0c0"/>
<rect x="483" y="516" width="3" height="16" fill="#c0c0c0"/>
<rect x="487" y="517" width="3" height="15" fill="#c0c0c0"/>
<rect x="491" y="518" width="3" height="14" fill="#c0c0c0"/>
<rect x="495" y="519" width="3" height="13" fill="#c0c0c0"/>
<rect x="499" y="519" width="3" height="13" fill="#c0c0c0"/>
<rect x="503" y="520" width="3" height="12" fill="#c0c0c0"/>
<rect x="507" y="520" width="3" height="12" fill="#c0c0c0"/>
<rect x="511" y="519" width="3" height="13" fill="#c0c0c0"/>
<rect x="515" y="519" width="3" height="13" fill="#c0c0c0"/>
<rect x="519" y="519" width="3" height="13" fill="#c0c0c0"/>
<rect x="523" y="519" width="3" height="13" fill="#c0c0c0"/>
<rect x="527" y="525" width="3" height="7" fill="#c0c0c0"/>
<rect x="531" y="530" width="3" height="2" fill="#c0c0c0"/>
<rect x="535" y="531" width="3" height="4" fill="#c0c0c0"/>
<rect x="539" y="531" width="3" height="6" fill="#c0c0c0"/>
<rect x="543" y="531" width="3" height="7" fill="#c0c0c0"/>
<rect x="547" y="531" width="3" height="6" fill="#c0c0c0"/>
<rect x="551" y="531" width="3" height="5" fill="#c0c0c0"/>
<rect x="555" y="531" width="3" height="2" fill="#c0c0c0"/>
<rect x="559" y="530" width="3" height="2" fill="#c0c0c0"/>
<rect x="563" y="530" width="3" height="2" fill="#c0c0c0"/>
<rect x="567" y="529" width="3" height="3" fill="#c0c0c0"/>
<rect x="571" y="530" width="3" height="2" fill="#c0c0c0"/>
<rect x="575" y="531" width="3" height="2" fill="#c0c0c0"/>
<rect x="579" y="531" width="3" height="6" fill="#c0c0c0"/>
<rect x="583" y="531" width="3" height="8" fill="#c0c0c0"/>
<rect x="587" y="531" width="3" height="9" fill="#c0c0c0"/>
<rect x="591" y="531" width="3" height="7" fill="#c0c0c0"/>
<rect x="595" y="531" width="3" height="5" fill="#c0c0c0"/>
<rect x="599" y="531" width="3" height="3" fill="#c0c0c0"/>
<rect x="603" y="530" width="3" height="2" fill="#c0c0c0"/>
<rect x="607" y="527" width="3" height="5" fill="#c0c0c0"/>
<rect x="611" y="527" width="3" height="5" fill="#c0c0c0"/>
<rect x="615" y="526" width="3" height="6" fill="#c0c0c0"/>
<rect x="619" y="529" width="3" height="3" fill="#c0c0c0"/>
<rect x="623" y="530" width="3" height="2" fill="#c0c0c0"/>
<rect x="627" y="531" width="3" height="2" fill="#c0c0c0"/>
<rect x="631" y="531" width="3" height="3" fill="#c0c0c0"/>
<rect x="635" y="531" width="3" height="4" fill="#c0c0c0"/>
<rect x="639" y="531" width="3" height="5" fill="#c0c0c0"/>
<rect x="643" y="531" width="3" height="3" fill="#c0c0c0"/>
<rect x="647" y="531" width="3" height="3" fill="#c0c0c0"/>
<rect x="651" y="531" width="3" height="1" fill="#c0c0c0"/>
<rect x="655" y="528" width="3" height="4" fill="#c0c0c0"/>
<rect x="659" y="526" width="3" height="6" fill="#c0c0c0"/>
<rect x="663" y="524" width="3" height="8" fill="#c0c0c0"/>
<rect x="667" y="522" width="3" height="10" fill="#c0c0c0"/>
<rect x="671" y="521" width="3" height="11" fill="#c0c0c0"/>
<rect x="675" y="520" width="3" height="12" fill="#c0c0c0"/>
<rect x="679" y="518" width="3" height="14" fill="#c0c0c0"/>
<rect x="683" y="521" width="3" height="11" fill="#c0c0c0"/>
<rect x="687" y="526" width="3" height="6" fill="#c0c0c0"/>
<rect x="691" y="530" width="3" height="2" fill="#c0c0c0"/>
<rect x="695" y="531" width="3" height="2" fill="#c0c0c0"/>
<rect x="699" y="531" width="3" height="3" fill="#c0c0c0"/>
<rect x="703" y="531" width="3" height="4" fill="#c0c0c0"/>
<rect x="707" y="531" width="3" height="6" fill="#c0c0c0"/>
<rect x="711" y="531" width="3" height="8" fill="#c0c0c0"/>
<rect x="715" y="531" width="3" height="10" fill="#c0c0c0"/>
<rect x="719" y="531" width="3" height="10" fill="#c0c0c0"/>
<rect x="723" y="531" width="3" height="13" fill="#c0c0c0"/>
<rect x="727" y="531" width="3" height="13" fill="#c0c0c0"/>
<rect x="731" y="531" width="3" height="15" fill="#c0c0c0"/>
<rect x="735" y="531" width="3" height="18" fill="#c0c0c0"/>
<rect x="739" y="531" width="3" height="19" fill="#c0c0c0"/>
<rect x="743" y="531" width="3" height="21" fill="#c0c0c0"/>
<rect x="747" y="531" width="3" height="20" fill="#c0c0c0"/>
<rect x="751" y="531" width="3" height="20" fill="#c0c0c0"/>
<rect x="755" y="531" width="3" height="19" fill="#c0c0c0"/>
<rect x="759" y="531" width="3" height="19" fill="#c0c0c0"/>
<rect x="763" y="531" width="3" height="19" fill="#c0c0c0"/>
<rect x="767" y="531" width="3" height="19" fill="#c0c0c0"/>
<rect x="771" y="531" width="3" height="20" fill="#c0c0c0"/>
<rect x="775" y="531" width="3" height="23" fill="#c0c0c0"/>
<rect x="779" y="531" width="3" height="26" fill="#c0c0c0"/>
<rect x="783" y="531" width="3" height="29" fill="#c0c0c0"/>
<rect x="787" y="531" width="3" height="32" fill="#c0c0c0"/>
<rect x="791" y="531" width="3" height="32" fill="#c0c0c0"/>
<rect x="795" y="531" width="3" height="32" fill="#c0c0c0"/>
<rect x="799" y="531" width="3" height="30" fill="#c0c0c0"/>
<rect x="803" y="531" width="3" height="30" fill="#c0c0c0"/>
<rect x="807" y="531" width="3" height="29" fill="#c0c0c0"/>
<rect x="811" y="531" width="3" height="28" fill="#c0c0c0"/>
<rect x="815" y="531" width="3" height="26" fill="#c0c0c0"/>
<rect x="819" y="531" width="3" height="23" fill="#c0c0c0"/>
<rect x="823" y="531" width="3" height="22" fill="#c0c0c0"/>
<rect x="827" y="531" width="3" height="21" fill="#c0c0c0"/>
<rect x="831" y="531" width="3" height="21" fill="#c0c0c0"/>
<rect x="835" y="531" width="3" height="23" fill="#c0c0c0"/>
<rect x="839" y="531" width="3" height="25" fill="#c0c0c0"/>
<rect x="843" y="531" width="3" height="23" fill="#c0c0c0"/>
<rect x="847" y="531" width="3" height="23" fill="#c0c0c0"/>
<rect x="851" y="531" width="3" height="22" fill="#c0c0c0"/>
<rect x="855" y="531" width="3" height="19" fill="#c0c0c0"/>
<rect x="859" y="531" width="3" height="18" fill="#c0c0c0"/>
<rect x="863" y="531" width="3" height="16" fill="#c0c0c0"/>
<rect x="867" y="531" width="3" height="15" fill="#c0c0c0"/>
<rect x="871" y="531" width="3" height="13" fill="#c0c0c0"/>
<rect x="875" y="531" width="3" height="12" fill="#c0c0c0"/>
<path d="M431 515h20v1h-20zM421 516h10v1h-10zM451 516h3v1h-3zM418 517h3v1h-3zM454 517h10v1h-10zM412 518h6v1h-6zM464 518h3v1h-3zM490 518h22v1h-22zM401 519h11v1h-11zM467 519h23v1h-23zM512 519h16v1h-16zM398 520h3v1h-3zM528 520h4v1h-4zM395 521h3v1h-3zM532 521h2v1h-2zM393 522h2v1h-2zM534 522h2v1h-2zM391 523h2v1h-2zM536 523h2v1h-2zM684 523h12v1h-12zM4 524h2v1h-2zM389 524h2v1h-2zM538 524h2v1h-2zM682 524h2v1h-2zM696 524h4v1h-4zM6 525h2v1h-2zM387 525h2v1h-2zM540 525h4v1h-4zM679 525h3v1h-3zM700 525h3v1h-3zM8 526h2v1h-2zM385 526h2v1h-2zM544 526h3v1h-3zM676 526h3v1h-3zM703 526h2v1h-2zM10 527h2v1h-2zM382 527h3v1h-3zM674 527h2v1h-2zM705 527h2v1h-2zM12 528h2v1h-2zM380 528h2v1h-2zM548 528h2v1h-2zM671 528h3v1h-3zM707 528h2v1h-2zM14 529h2v1h-2zM269 529h10v1h-10zM378 529h2v1h-2zM550 529h2v1h-2zM669 529h2v1h-2zM709 529h2v1h-2zM16 530h2v1h-2zM266 530h3v1h-3zM279 530h2v1h-2zM376 530h2v1h-2zM552 530h2v1h-2zM626 530h17v1h-17zM666 530h3v1h-3zM711 530h2v1h-2zM18 531h2v1h-2zM262 531h4v1h-4zM281 531h2v1h-2zM374 531h2v1h-2zM554 531h3v1h-3zM618 531h8v1h-8zM643 531h3v1h-3zM662 531h4v1h-4zM713 531h2v1h-2zM20 532h3v1h-3zM259 532h3v1h-3zM283 532h2v1h-2zM372 532h2v1h-2zM557 532h2v1h-2zM615 532h3v1h-3zM646 532h16v1h-16zM715 532h2v1h-2zM23 533h3v1h-3zM256 533h3v1h-3zM559 533h31v1h-31zM613 533h2v1h-2zM717 533h2v1h-2zM26 534h4v1h-4zM254 534h2v1h-2zM286 534h2v1h-2zM369 534h2v1h-2zM590 534h12v1h-12zM606 534h7v1h-7zM719 534h2v1h-2zM30 535h3v1h-3zM251 535h3v1h-3zM602 535h4v1h-4zM721 535h2v1h-2zM33 536h2v1h-2zM208 536h19v1h-19zM247 536h4v1h-4zM289 536h2v1h-2zM366 536h2v1h-2zM723 536h2v1h-2zM35 537h2v1h-2zM205 537h3v1h-3zM227 537h6v1h-6zM241 537h6v1h-6zM364 537h2v1h-2zM725 537h2v1h-2zM37 538h2v1h-2zM203 538h2v1h-2zM233 538h8v1h-8zM360 538h4v1h-4zM727 538h2v1h-2zM39 539h4v1h-4zM201 539h2v1h-2zM293 539h2v1h-2zM355 539h5v1h-5zM729 539h3v1h-3zM43 540h4v1h-4zM351 540h4v1h-4zM732 540h4v1h-4zM47 541h4v1h-4zM198 541h2v1h-2zM349 541h2v1h-2zM736 541h3v1h-3zM51 542h6v1h-6zM347 542h2v1h-2zM739 542h2v1h-2zM57 543h7v1h-7zM298 543h2v1h-2zM741 543h3v1h-3zM64 544h4v1h-4zM344 544h2v1h-2zM744 544h2v1h-2zM68 545h2v1h-2zM193 545h2v1h-2zM342 545h2v1h-2zM746 545h2v1h-2zM70 546h2v1h-2zM191 546h2v1h-2zM302 546h2v1h-2zM340 546h2v1h-2zM748 546h2v1h-2zM72 547h2v1h-2zM189 547h2v1h-2zM338 547h2v1h-2zM750 547h3v1h-3zM74 548h2v1h-2zM305 548h2v1h-2zM336 548h2v1h-2zM753 548h13v1h-13zM334 549h2v1h-2zM766 549h4v1h-4zM871 549h3v1h-3zM77 550h2v1h-2zM308 550h2v1h-2zM332 550h2v1h-2zM770 550h5v1h-5zM866 550h5v1h-5zM310 551h2v1h-2zM330 551h2v1h-2zM775 551h8v1h-8zM859 551h7v1h-7zM80 552h2v1h-2zM312 552h4v1h-4zM326 552h4v1h-4zM783 552h6v1h-6zM852 552h7v1h-7zM82 553h2v1h-2zM122 553h9v1h-9zM316 553h10v1h-10zM789 553h2v1h-2zM844 553h8v1h-8zM84 554h2v1h-2zM117 554h5v1h-5zM131 554h2v1h-2zM791 554h3v1h-3zM838 554h6v1h-6zM115 555h2v1h-2zM133 555h2v1h-2zM794 555h3v1h-3zM834 555h4v1h-4zM87 556h2v1h-2zM113 556h2v1h-2zM135 556h2v1h-2zM797 556h3v1h-3zM830 556h4v1h-4zM89 557h2v1h-2zM111 557h2v1h-2zM800 557h3v1h-3zM826 557h4v1h-4zM91 558h3v1h-3zM109 558h2v1h-2zM803 558h3v1h-3zM822 558h4v1h-4zM94 559h2v1h-2zM107 559h2v1h-2zM139 559h2v1h-2zM806 559h4v1h-4zM818 559h4v1h-4zM96 560h3v1h-3zM103 560h4v1h-4zM810 560h8v1h-8zM99 561h4v1h-4zM143 562h2v1h-2zM146 564h2v1h-2zM173 564h2v1h-2zM149 566h2v1h-2zM151 567h2v1h-2zM169 567h2v1h-2zM153 568h3v1h-3zM166 568h3v1h-3zM156 569h2v1h-2zM162 569h4v1h-4zM158 570h4v1h-4zM3 523h1v1h-1zM76 549h1v1h-1zM79 551h1v1h-1zM86 555h1v1h-1zM137 557h1v1h-1zM138 558h1v1h-1zM141 560h1v1h-1zM142 561h1v1h-1zM145 563h1v1h-1zM148 565h1v1h-1zM171 566h1v1h-1zM172 565h1v1h-1zM175 563h1v1h-1zM176 562h1v1h-1zM177 561h1v1h-1zM178 560h1v1h-1zM179 558h1v2h-1zM180 557h1v1h-1zM181 556h1v1h-1zM182 555h1v1h-1zM183 554h1v1h-1zM184 553h1v1h-1zM185 551h1v2h-1zM186 550h1v1h-1zM187 549h1v1h-1zM188 548h1v1h-1zM195 544h1v1h-1zM196 543h1v1h-1zM197 542h1v1h-1zM200 540h1v1h-1zM285 533h1v1h-1zM288 535h1v1h-1zM291 537h1v1h-1zM292 538h1v1h-1zM295 540h1v1h-1zM296 541h1v1h-1zM297 542h1v1h-1zM300 544h1v1h-1zM301 545h1v1h-1zM304 547h1v1h-1zM307 549h1v1h-1zM346 543h1v1h-1zM368 535h1v1h-1zM371 533h1v1h-1zM547 527h1v1h-1zM874 548h1v1h-1zM875 547h1v1h-1z" fill="#ff0000"/>
</g>
<text x="8" y="521.9" font-size="9.6" fill="#000" stroke="#000" stroke-width="0.1" textLength="154" lengthAdjust="spacingAndGlyphs">MACD(12,26,9) -0.001857 -0.002876</text>
<rect x="1107" y="511" width="1" height="1" fill="#000"/>
<text x="1110.5" y="519.7" font-size="9.6" fill="#000" stroke="#000" stroke-width="0.25" textLength="37" lengthAdjust="spacingAndGlyphs">0.003428</text>
<rect x="1107" y="531" width="1" height="1" fill="#000"/>
<text x="1110.5" y="534.6" font-size="9.6" fill="#000" stroke="#000" stroke-width="0.25" textLength="18.5" lengthAdjust="spacingAndGlyphs">0.00</text>
<rect x="1107" y="576" width="1" height="1" fill="#000"/>
<text x="1110" y="573.8" font-size="9.6" fill="#000" stroke="#000" stroke-width="0.25" textLength="41" lengthAdjust="spacingAndGlyphs">-0.007615</text>
<rect x="4" y="578" width="1" height="3" fill="#000"/>
<text x="3.5" y="589.9" font-size="9.6" fill="#000" stroke="#000" stroke-width="0.15" textLength="54.4" lengthAdjust="spacingAndGlyphs">17 May 2019</text>
<rect x="68" y="578" width="1" height="3" fill="#000"/>
<text x="67.5" y="589.9" font-size="9.6" fill="#000" stroke="#000" stroke-width="0.15" textLength="44.5" lengthAdjust="spacingAndGlyphs">5 Jun 2019</text>
<rect x="132" y="578" width="1" height="3" fill="#000"/>
<text x="131.5" y="589.9" font-size="9.6" fill="#000" stroke="#000" stroke-width="0.15" textLength="49" lengthAdjust="spacingAndGlyphs">24 Jun 2019</text>
<rect x="196" y="578" width="1" height="3" fill="#000"/>
<text x="195.5" y="589.9" font-size="9.6" fill="#000" stroke="#000" stroke-width="0.15" textLength="45.9" lengthAdjust="spacingAndGlyphs">12 Jul 2019</text>
<rect x="260" y="578" width="1" height="3" fill="#000"/>
<text x="259.5" y="589.9" font-size="9.6" fill="#000" stroke="#000" stroke-width="0.15" textLength="46.3" lengthAdjust="spacingAndGlyphs">31 Jul 2019</text>
<rect x="324" y="578" width="1" height="3" fill="#000"/>
<text x="323.5" y="589.9" font-size="9.6" fill="#000" stroke="#000" stroke-width="0.15" textLength="51.6" lengthAdjust="spacingAndGlyphs">19 Aug 2019</text>
<rect x="388" y="578" width="1" height="3" fill="#000"/>
<text x="387.5" y="589.9" font-size="9.6" fill="#000" stroke="#000" stroke-width="0.15" textLength="46.2" lengthAdjust="spacingAndGlyphs">6 Sep 2019</text>
<rect x="452" y="578" width="1" height="3" fill="#000"/>
<text x="451.5" y="589.9" font-size="9.6" fill="#000" stroke="#000" stroke-width="0.15" textLength="51.1" lengthAdjust="spacingAndGlyphs">25 Sep 2019</text>
<rect x="516" y="578" width="1" height="3" fill="#000"/>
<text x="515.5" y="589.9" font-size="9.6" fill="#000" stroke="#000" stroke-width="0.15" textLength="50.4" lengthAdjust="spacingAndGlyphs">14 Oct 2019</text>
<rect x="580" y="578" width="1" height="3" fill="#000"/>
<text x="579.5" y="589.9" font-size="9.6" fill="#000" stroke="#000" stroke-width="0.15" textLength="48.4" lengthAdjust="spacingAndGlyphs">1 Nov 2019</text>
<rect x="644" y="578" width="1" height="3" fill="#000"/>
<text x="643.5" y="589.9" font-size="9.6" fill="#000" stroke="#000" stroke-width="0.15" textLength="53.8" lengthAdjust="spacingAndGlyphs">20 Nov 2019</text>
<rect x="708" y="578" width="1" height="3" fill="#000"/>
<text x="707.5" y="589.9" font-size="9.6" fill="#000" stroke="#000" stroke-width="0.15" textLength="46.5" lengthAdjust="spacingAndGlyphs">9 Dec 2019</text>
<rect x="772" y="578" width="1" height="3" fill="#000"/>
<text x="771.5" y="589.9" font-size="9.6" fill="#000" stroke="#000" stroke-width="0.15" textLength="51.5" lengthAdjust="spacingAndGlyphs">27 Dec 2019</text>
<rect x="836" y="578" width="1" height="3" fill="#000"/>
<text x="835.5" y="589.9" font-size="9.6" fill="#000" stroke="#000" stroke-width="0.15" textLength="49.5" lengthAdjust="spacingAndGlyphs">15 Jan 2020</text>
<rect x="0" y="598" width="1151" height="1" fill="#e3e3e3"/>
<rect x="0" y="601" width="1151" height="19" fill="#f0f0f0"/>
<rect x="0" y="620" width="1151" height="1" fill="#fbfbfb"/>
<rect x="0" y="600" width="214" height="1" fill="#000"/>
<rect x="312" y="600" width="839" height="1" fill="#000"/>
<rect x="214" y="600" width="98" height="19" fill="#fff"/>
<rect x="213" y="600" width="1" height="19" fill="#000"/>
<rect x="312" y="600" width="1" height="19" fill="#000"/>
<rect x="213" y="618" width="100" height="1" fill="#000"/>
<rect x="0" y="601" width="1" height="19" fill="#8c8c8c"/>
<text x="17.7" y="614.4" font-size="12.3" fill="#7a7a7a" stroke="#7a7a7a" stroke-width="0" textLength="79" lengthAdjust="spacingAndGlyphs">EURUSD,Daily</text>
<text x="120.2" y="614.4" font-size="12.3" fill="#7a7a7a" stroke="#7a7a7a" stroke-width="0" textLength="81.5" lengthAdjust="spacingAndGlyphs">AUDUSD,Daily</text>
<text x="223.4" y="614.4" font-size="12.3" fill="#000" stroke="#000" stroke-width="0" textLength="78.5" lengthAdjust="spacingAndGlyphs">USDCHF,Daily</text>
<text x="324.6" y="614.4" font-size="12.3" fill="#7a7a7a" stroke="#7a7a7a" stroke-width="0" textLength="80" lengthAdjust="spacingAndGlyphs">USDCAD,Daily</text>
<text x="427.2" y="614.4" font-size="12.3" fill="#7a7a7a" stroke="#7a7a7a" stroke-width="0" textLength="82.3" lengthAdjust="spacingAndGlyphs">USDCNH,Daily</text>
<text x="531.5" y="614.4" font-size="12.3" fill="#7a7a7a" stroke="#7a7a7a" stroke-width="0" textLength="66" lengthAdjust="spacingAndGlyphs">EURGBP,H1</text>
<text x="620.5" y="614.4" font-size="12.3" fill="#7a7a7a" stroke="#7a7a7a" stroke-width="0" textLength="68.5" lengthAdjust="spacingAndGlyphs">NZDUSD,H1</text>
<text x="713.2" y="614.4" font-size="12.3" fill="#7a7a7a" stroke="#7a7a7a" stroke-width="0" textLength="67.7" lengthAdjust="spacingAndGlyphs">GBPUSD,H1</text>
<rect x="109" y="603" width="1" height="14" fill="#5a5a5a"/>
<rect x="417" y="603" width="1" height="14" fill="#5a5a5a"/>
<rect x="521" y="603" width="1" height="14" fill="#5a5a5a"/>
<rect x="609" y="603" width="1" height="14" fill="#5a5a5a"/>
<rect x="701" y="603" width="1" height="14" fill="#5a5a5a"/>
<rect x="793" y="603" width="1" height="14" fill="#5a5a5a"/>
<path d="M1125 606v7l-3.5-3.5z M1141 606v7l3.5-3.5z" fill="#a0a0a0" shape-rendering="geometricPrecision"/>
</svg></body></html>
